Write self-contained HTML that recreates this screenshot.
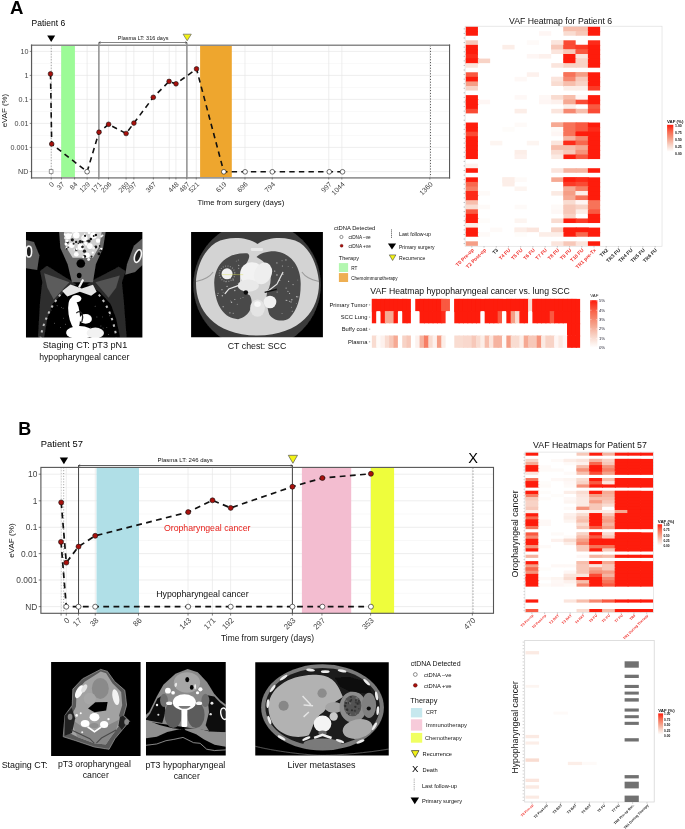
<!DOCTYPE html>
<html><head><meta charset="utf-8"><title>Figure</title>
<style>
html,body{margin:0;padding:0;background:#fff;}
body{width:685px;height:829px;overflow:hidden;font-family:"Liberation Sans", sans-serif;}
svg{display:block;font-family:"Liberation Sans", sans-serif;opacity:0.999;}
</style></head><body>
<svg width="685" height="829" viewBox="0 0 685 829">
<rect width="685" height="829" fill="#fff"/>
<text x="10.00" y="14.00" font-size="18.6" fill="#000" text-anchor="start" font-weight="bold">A</text>
<text x="31.60" y="26.30" font-size="8.5" fill="#000" text-anchor="start" font-weight="normal">Patient 6</text>
<text x="18.30" y="434.90" font-size="18.0" fill="#000" text-anchor="start" font-weight="bold">B</text>
<text x="40.80" y="446.80" font-size="9.35" fill="#000" text-anchor="start" font-weight="normal">Patient 57</text>
<rect x="31.70" y="45.30" width="418.00" height="132.20" fill="#fff"/>
<line x1="31.70" y1="51.40" x2="449.70" y2="51.40" stroke="#e6e6e6" stroke-width="0.7"/>
<line x1="31.70" y1="63.40" x2="449.70" y2="63.40" stroke="#f0f0f0" stroke-width="0.5"/>
<line x1="31.70" y1="75.40" x2="449.70" y2="75.40" stroke="#e6e6e6" stroke-width="0.7"/>
<line x1="31.70" y1="87.40" x2="449.70" y2="87.40" stroke="#f0f0f0" stroke-width="0.5"/>
<line x1="31.70" y1="99.40" x2="449.70" y2="99.40" stroke="#e6e6e6" stroke-width="0.7"/>
<line x1="31.70" y1="111.40" x2="449.70" y2="111.40" stroke="#f0f0f0" stroke-width="0.5"/>
<line x1="31.70" y1="123.40" x2="449.70" y2="123.40" stroke="#e6e6e6" stroke-width="0.7"/>
<line x1="31.70" y1="135.40" x2="449.70" y2="135.40" stroke="#f0f0f0" stroke-width="0.5"/>
<line x1="31.70" y1="147.40" x2="449.70" y2="147.40" stroke="#e6e6e6" stroke-width="0.7"/>
<line x1="31.70" y1="159.50" x2="449.70" y2="159.50" stroke="#f0f0f0" stroke-width="0.5"/>
<line x1="31.70" y1="171.60" x2="449.70" y2="171.60" stroke="#e6e6e6" stroke-width="0.7"/>
<line x1="51.20" y1="45.30" x2="51.20" y2="177.50" stroke="#e6e6e6" stroke-width="0.7"/>
<line x1="61.50" y1="45.30" x2="61.50" y2="177.50" stroke="#e6e6e6" stroke-width="0.7"/>
<line x1="74.59" y1="45.30" x2="74.59" y2="177.50" stroke="#e6e6e6" stroke-width="0.7"/>
<line x1="87.11" y1="45.30" x2="87.11" y2="177.50" stroke="#e6e6e6" stroke-width="0.7"/>
<line x1="98.81" y1="45.30" x2="98.81" y2="177.50" stroke="#e6e6e6" stroke-width="0.7"/>
<line x1="108.55" y1="45.30" x2="108.55" y2="177.50" stroke="#e6e6e6" stroke-width="0.7"/>
<line x1="126.09" y1="45.30" x2="126.09" y2="177.50" stroke="#e6e6e6" stroke-width="0.7"/>
<line x1="133.88" y1="45.30" x2="133.88" y2="177.50" stroke="#e6e6e6" stroke-width="0.7"/>
<line x1="153.37" y1="45.30" x2="153.37" y2="177.50" stroke="#e6e6e6" stroke-width="0.7"/>
<line x1="169.24" y1="45.30" x2="169.24" y2="177.50" stroke="#e6e6e6" stroke-width="0.7"/>
<line x1="175.92" y1="45.30" x2="175.92" y2="177.50" stroke="#e6e6e6" stroke-width="0.7"/>
<line x1="186.78" y1="45.30" x2="186.78" y2="177.50" stroke="#e6e6e6" stroke-width="0.7"/>
<line x1="196.25" y1="45.30" x2="196.25" y2="177.50" stroke="#e6e6e6" stroke-width="0.7"/>
<line x1="223.53" y1="45.30" x2="223.53" y2="177.50" stroke="#e6e6e6" stroke-width="0.7"/>
<line x1="244.97" y1="45.30" x2="244.97" y2="177.50" stroke="#e6e6e6" stroke-width="0.7"/>
<line x1="272.25" y1="45.30" x2="272.25" y2="177.50" stroke="#e6e6e6" stroke-width="0.7"/>
<line x1="328.76" y1="45.30" x2="328.76" y2="177.50" stroke="#e6e6e6" stroke-width="0.7"/>
<line x1="341.85" y1="45.30" x2="341.85" y2="177.50" stroke="#e6e6e6" stroke-width="0.7"/>
<line x1="429.82" y1="45.30" x2="429.82" y2="177.50" stroke="#e6e6e6" stroke-width="0.7"/>
<rect x="61.20" y="45.30" width="13.70" height="132.20" fill="#9cfb97"/>
<rect x="200.10" y="45.30" width="31.70" height="132.20" fill="#eea62e"/>
<line x1="51.25" y1="45.30" x2="51.25" y2="177.50" stroke="#9a9a9a" stroke-width="1.0" stroke-dasharray="1 1.8"/>
<line x1="430.50" y1="45.30" x2="430.50" y2="177.50" stroke="#4a4a4a" stroke-width="1.0" stroke-dasharray="1 1.8"/>
<line x1="98.90" y1="42.50" x2="98.90" y2="177.50" stroke="#808080" stroke-width="1.3"/>
<line x1="186.90" y1="42.50" x2="186.90" y2="177.50" stroke="#808080" stroke-width="1.3"/>
<line x1="30.90" y1="45.25" x2="450.10" y2="45.25" stroke="#8a8a8a" stroke-width="1.7"/>
<line x1="30.90" y1="177.90" x2="450.10" y2="177.90" stroke="#989898" stroke-width="1.8"/>
<line x1="31.55" y1="44.60" x2="31.55" y2="178.60" stroke="#5a5a5a" stroke-width="1.2"/>
<line x1="449.55" y1="44.60" x2="449.55" y2="178.60" stroke="#5a5a5a" stroke-width="1.1"/>
<line x1="98.90" y1="42.50" x2="186.90" y2="42.50" stroke="#333" stroke-width="0.6"/>
<path d="M100.6 41.5 L98.9 42.5 L100.6 43.5" fill="none" stroke="#333" stroke-width="0.5"/>
<path d="M185.2 41.5 L186.9 42.5 L185.2 43.5" fill="none" stroke="#333" stroke-width="0.5"/>
<text x="143.10" y="39.60" font-size="5.5" fill="#111" text-anchor="middle" font-weight="normal">Plasma LT: 316 days</text>
<polygon points="47.20,35.50 55.20,35.50 51.20,42.10" fill="#000"/>
<polygon points="183.10,34.20 191.30,34.20 187.20,40.80" fill="#f2f215" stroke="#666" stroke-width="0.7"/>
<path d="M50.5 73.9 L51.7 144.0 L87.1 171.7 L99.0 132.2 L108.6 124.3 L126.1 133.5 L133.9 123.1 L153.3 97.3 L169.1 81.4 L176.0 83.8 L196.5 68.9 L223.8 171.8 L245.1 171.8 L272.3 171.8 L329.3 171.8 L342.5 171.8" fill="none" stroke="#111" stroke-width="1.6" stroke-dasharray="5.4 4.2"/>
<rect x="49.2" y="169.7" width="3.8" height="3.8" fill="#fff" stroke="#555" stroke-width="0.6"/>
<circle cx="50.5" cy="73.9" r="2.35" fill="#a8100c" stroke="#111" stroke-width="0.6"/>
<circle cx="51.7" cy="144.0" r="2.35" fill="#a8100c" stroke="#111" stroke-width="0.6"/>
<circle cx="87.1" cy="171.7" r="2.35" fill="#fff" stroke="#111" stroke-width="0.6"/>
<circle cx="99.0" cy="132.2" r="2.35" fill="#a8100c" stroke="#111" stroke-width="0.6"/>
<circle cx="108.6" cy="124.3" r="2.35" fill="#a8100c" stroke="#111" stroke-width="0.6"/>
<circle cx="126.1" cy="133.5" r="2.35" fill="#a8100c" stroke="#111" stroke-width="0.6"/>
<circle cx="133.9" cy="123.1" r="2.35" fill="#a8100c" stroke="#111" stroke-width="0.6"/>
<circle cx="153.3" cy="97.3" r="2.35" fill="#a8100c" stroke="#111" stroke-width="0.6"/>
<circle cx="169.1" cy="81.4" r="2.35" fill="#a8100c" stroke="#111" stroke-width="0.6"/>
<circle cx="176.0" cy="83.8" r="2.35" fill="#a8100c" stroke="#111" stroke-width="0.6"/>
<circle cx="196.5" cy="68.9" r="2.35" fill="#a8100c" stroke="#111" stroke-width="0.6"/>
<circle cx="223.8" cy="171.8" r="2.35" fill="#fff" stroke="#111" stroke-width="0.6"/>
<circle cx="245.1" cy="171.8" r="2.35" fill="#fff" stroke="#111" stroke-width="0.6"/>
<circle cx="272.3" cy="171.8" r="2.35" fill="#fff" stroke="#111" stroke-width="0.6"/>
<circle cx="329.3" cy="171.8" r="2.35" fill="#fff" stroke="#111" stroke-width="0.6"/>
<circle cx="342.5" cy="171.8" r="2.35" fill="#fff" stroke="#111" stroke-width="0.6"/>
<line x1="29.70" y1="51.40" x2="31.70" y2="51.40" stroke="#444" stroke-width="0.6"/>
<text x="28.50" y="54.00" font-size="7.2" fill="#444" text-anchor="end" font-weight="normal">10</text>
<line x1="29.70" y1="75.40" x2="31.70" y2="75.40" stroke="#444" stroke-width="0.6"/>
<text x="28.50" y="78.00" font-size="7.2" fill="#444" text-anchor="end" font-weight="normal">1</text>
<line x1="29.70" y1="99.40" x2="31.70" y2="99.40" stroke="#444" stroke-width="0.6"/>
<text x="28.50" y="102.00" font-size="7.2" fill="#444" text-anchor="end" font-weight="normal">0.1</text>
<line x1="29.70" y1="123.40" x2="31.70" y2="123.40" stroke="#444" stroke-width="0.6"/>
<text x="28.50" y="126.00" font-size="7.2" fill="#444" text-anchor="end" font-weight="normal">0.01</text>
<line x1="29.70" y1="147.40" x2="31.70" y2="147.40" stroke="#444" stroke-width="0.6"/>
<text x="28.50" y="150.00" font-size="7.2" fill="#444" text-anchor="end" font-weight="normal">0.001</text>
<line x1="29.70" y1="171.60" x2="31.70" y2="171.60" stroke="#444" stroke-width="0.6"/>
<text x="28.50" y="174.20" font-size="7.2" fill="#444" text-anchor="end" font-weight="normal">ND</text>
<text x="7.20" y="110.60" font-size="7.85" fill="#111" text-anchor="middle" font-weight="normal" transform="rotate(-90 7.20 110.60)">eVAF (%)</text>
<line x1="51.20" y1="177.50" x2="51.20" y2="179.50" stroke="#444" stroke-width="0.6"/>
<text x="54.60" y="184.80" font-size="7.0" fill="#444" text-anchor="end" font-weight="normal" transform="rotate(-45 54.60 184.80)">0</text>
<line x1="61.50" y1="177.50" x2="61.50" y2="179.50" stroke="#444" stroke-width="0.6"/>
<text x="64.90" y="184.80" font-size="7.0" fill="#444" text-anchor="end" font-weight="normal" transform="rotate(-45 64.90 184.80)">37</text>
<line x1="74.59" y1="177.50" x2="74.59" y2="179.50" stroke="#444" stroke-width="0.6"/>
<text x="77.99" y="184.80" font-size="7.0" fill="#444" text-anchor="end" font-weight="normal" transform="rotate(-45 77.99 184.80)">84</text>
<line x1="87.11" y1="177.50" x2="87.11" y2="179.50" stroke="#444" stroke-width="0.6"/>
<text x="90.51" y="184.80" font-size="7.0" fill="#444" text-anchor="end" font-weight="normal" transform="rotate(-45 90.51 184.80)">129</text>
<line x1="98.81" y1="177.50" x2="98.81" y2="179.50" stroke="#444" stroke-width="0.6"/>
<text x="102.21" y="184.80" font-size="7.0" fill="#444" text-anchor="end" font-weight="normal" transform="rotate(-45 102.21 184.80)">171</text>
<line x1="108.55" y1="177.50" x2="108.55" y2="179.50" stroke="#444" stroke-width="0.6"/>
<text x="111.95" y="184.80" font-size="7.0" fill="#444" text-anchor="end" font-weight="normal" transform="rotate(-45 111.95 184.80)">206</text>
<line x1="126.09" y1="177.50" x2="126.09" y2="179.50" stroke="#444" stroke-width="0.6"/>
<text x="129.49" y="184.80" font-size="7.0" fill="#444" text-anchor="end" font-weight="normal" transform="rotate(-45 129.49 184.80)">269</text>
<line x1="133.88" y1="177.50" x2="133.88" y2="179.50" stroke="#444" stroke-width="0.6"/>
<text x="137.28" y="184.80" font-size="7.0" fill="#444" text-anchor="end" font-weight="normal" transform="rotate(-45 137.28 184.80)">297</text>
<line x1="153.37" y1="177.50" x2="153.37" y2="179.50" stroke="#444" stroke-width="0.6"/>
<text x="156.77" y="184.80" font-size="7.0" fill="#444" text-anchor="end" font-weight="normal" transform="rotate(-45 156.77 184.80)">367</text>
<line x1="169.24" y1="177.50" x2="169.24" y2="179.50" stroke="#444" stroke-width="0.6"/>
<line x1="175.92" y1="177.50" x2="175.92" y2="179.50" stroke="#444" stroke-width="0.6"/>
<text x="179.32" y="184.80" font-size="7.0" fill="#444" text-anchor="end" font-weight="normal" transform="rotate(-45 179.32 184.80)">448</text>
<line x1="186.78" y1="177.50" x2="186.78" y2="179.50" stroke="#444" stroke-width="0.6"/>
<text x="190.18" y="184.80" font-size="7.0" fill="#444" text-anchor="end" font-weight="normal" transform="rotate(-45 190.18 184.80)">487</text>
<line x1="196.25" y1="177.50" x2="196.25" y2="179.50" stroke="#444" stroke-width="0.6"/>
<text x="199.65" y="184.80" font-size="7.0" fill="#444" text-anchor="end" font-weight="normal" transform="rotate(-45 199.65 184.80)">521</text>
<line x1="223.53" y1="177.50" x2="223.53" y2="179.50" stroke="#444" stroke-width="0.6"/>
<text x="226.93" y="184.80" font-size="7.0" fill="#444" text-anchor="end" font-weight="normal" transform="rotate(-45 226.93 184.80)">619</text>
<line x1="244.97" y1="177.50" x2="244.97" y2="179.50" stroke="#444" stroke-width="0.6"/>
<text x="248.37" y="184.80" font-size="7.0" fill="#444" text-anchor="end" font-weight="normal" transform="rotate(-45 248.37 184.80)">696</text>
<line x1="272.25" y1="177.50" x2="272.25" y2="179.50" stroke="#444" stroke-width="0.6"/>
<text x="275.65" y="184.80" font-size="7.0" fill="#444" text-anchor="end" font-weight="normal" transform="rotate(-45 275.65 184.80)">794</text>
<line x1="328.76" y1="177.50" x2="328.76" y2="179.50" stroke="#444" stroke-width="0.6"/>
<text x="332.16" y="184.80" font-size="7.0" fill="#444" text-anchor="end" font-weight="normal" transform="rotate(-45 332.16 184.80)">997</text>
<line x1="341.85" y1="177.50" x2="341.85" y2="179.50" stroke="#444" stroke-width="0.6"/>
<text x="345.25" y="184.80" font-size="7.0" fill="#444" text-anchor="end" font-weight="normal" transform="rotate(-45 345.25 184.80)">1044</text>
<line x1="429.82" y1="177.50" x2="429.82" y2="179.50" stroke="#444" stroke-width="0.6"/>
<text x="433.22" y="184.80" font-size="7.0" fill="#444" text-anchor="end" font-weight="normal" transform="rotate(-45 433.22 184.80)">1360</text>
<text x="240.90" y="204.50" font-size="7.8" fill="#111" text-anchor="middle" font-weight="normal">Time from surgery (days)</text>
<rect x="40.90" y="467.40" width="452.60" height="145.90" fill="#fff"/>
<line x1="40.90" y1="474.20" x2="493.50" y2="474.20" stroke="#e6e6e6" stroke-width="0.7"/>
<line x1="40.90" y1="487.50" x2="493.50" y2="487.50" stroke="#f0f0f0" stroke-width="0.5"/>
<line x1="40.90" y1="500.80" x2="493.50" y2="500.80" stroke="#e6e6e6" stroke-width="0.7"/>
<line x1="40.90" y1="514.05" x2="493.50" y2="514.05" stroke="#f0f0f0" stroke-width="0.5"/>
<line x1="40.90" y1="527.30" x2="493.50" y2="527.30" stroke="#e6e6e6" stroke-width="0.7"/>
<line x1="40.90" y1="540.45" x2="493.50" y2="540.45" stroke="#f0f0f0" stroke-width="0.5"/>
<line x1="40.90" y1="553.60" x2="493.50" y2="553.60" stroke="#e6e6e6" stroke-width="0.7"/>
<line x1="40.90" y1="566.80" x2="493.50" y2="566.80" stroke="#f0f0f0" stroke-width="0.5"/>
<line x1="40.90" y1="580.00" x2="493.50" y2="580.00" stroke="#e6e6e6" stroke-width="0.7"/>
<line x1="40.90" y1="593.30" x2="493.50" y2="593.30" stroke="#f0f0f0" stroke-width="0.5"/>
<line x1="40.90" y1="606.60" x2="493.50" y2="606.60" stroke="#e6e6e6" stroke-width="0.7"/>
<line x1="61.09" y1="467.40" x2="61.09" y2="613.30" stroke="#e6e6e6" stroke-width="0.7"/>
<line x1="66.31" y1="467.40" x2="66.31" y2="613.30" stroke="#e6e6e6" stroke-width="0.7"/>
<line x1="78.48" y1="467.40" x2="78.48" y2="613.30" stroke="#e6e6e6" stroke-width="0.7"/>
<line x1="95.26" y1="467.40" x2="95.26" y2="613.30" stroke="#e6e6e6" stroke-width="0.7"/>
<line x1="138.48" y1="467.40" x2="138.48" y2="613.30" stroke="#e6e6e6" stroke-width="0.7"/>
<line x1="188.04" y1="467.40" x2="188.04" y2="613.30" stroke="#e6e6e6" stroke-width="0.7"/>
<line x1="212.38" y1="467.40" x2="212.38" y2="613.30" stroke="#e6e6e6" stroke-width="0.7"/>
<line x1="230.64" y1="467.40" x2="230.64" y2="613.30" stroke="#e6e6e6" stroke-width="0.7"/>
<line x1="292.38" y1="467.40" x2="292.38" y2="613.30" stroke="#e6e6e6" stroke-width="0.7"/>
<line x1="321.94" y1="467.40" x2="321.94" y2="613.30" stroke="#e6e6e6" stroke-width="0.7"/>
<line x1="370.63" y1="467.40" x2="370.63" y2="613.30" stroke="#e6e6e6" stroke-width="0.7"/>
<line x1="472.37" y1="467.40" x2="472.37" y2="613.30" stroke="#e6e6e6" stroke-width="0.7"/>
<rect x="96.50" y="467.40" width="42.50" height="145.90" fill="#b0dfe7"/>
<rect x="301.90" y="467.40" width="49.30" height="145.90" fill="#f3bdd0"/>
<rect x="370.90" y="467.40" width="23.20" height="145.90" fill="#eefd3c"/>
<line x1="61.40" y1="467.40" x2="61.40" y2="613.30" stroke="#c4c4c4" stroke-width="0.8" stroke-dasharray="1 1.8"/>
<line x1="63.70" y1="467.40" x2="63.70" y2="613.30" stroke="#9a9a9a" stroke-width="1.0" stroke-dasharray="1 1.8"/>
<line x1="473.00" y1="467.40" x2="473.00" y2="613.30" stroke="#aaa" stroke-width="1.3" stroke-dasharray="1.3 1.7"/>
<line x1="78.55" y1="465.50" x2="78.55" y2="613.30" stroke="#444" stroke-width="1.0"/>
<line x1="292.40" y1="465.50" x2="292.40" y2="613.30" stroke="#444" stroke-width="1.0"/>
<rect x="40.9" y="467.4" width="452.6" height="145.89999999999998" fill="none" stroke="#555" stroke-width="1.1"/>
<line x1="78.50" y1="465.50" x2="292.40" y2="465.50" stroke="#333" stroke-width="0.8"/>
<path d="M80.2 464.5 L78.5 465.5 L80.2 466.5" fill="none" stroke="#222" stroke-width="0.5"/>
<path d="M290.7 464.5 L292.4 465.5 L290.7 466.5" fill="none" stroke="#222" stroke-width="0.5"/>
<text x="185.20" y="461.50" font-size="6.0" fill="#111" text-anchor="middle" font-weight="normal">Plasma LT: 246 days</text>
<polygon points="59.75,457.60 68.05,457.60 63.90,464.20" fill="#000"/>
<polygon points="288.30,455.30 297.50,455.30 292.90,463.30" fill="#f2f215" stroke="#555" stroke-width="0.7"/>
<text x="473.20" y="462.80" font-size="14.5" fill="#000" text-anchor="middle" font-weight="normal">X</text>
<path d="M61.2 502.4 L66.3 562.6 L78.5 546.6 L95.2 535.8 L188.2 512.1 L212.5 500.3 L230.7 507.9 L292.4 486.7 L322.4 478.0 L370.9 473.8" fill="none" stroke="#111" stroke-width="1.7" stroke-dasharray="5.8 4.4"/>
<path d="M61.0 541.9 L66.3 606.7 L78.5 606.7 L95.2 606.7 L188.2 606.7 L230.7 606.7 L292.4 606.7 L322.4 606.7 L370.9 606.7" fill="none" stroke="#111" stroke-width="1.7" stroke-dasharray="5.8 4.4"/>
<circle cx="61.2" cy="502.4" r="2.5" fill="#a8100c" stroke="#111" stroke-width="0.6"/>
<circle cx="66.3" cy="562.6" r="2.5" fill="#a8100c" stroke="#111" stroke-width="0.6"/>
<circle cx="78.5" cy="546.6" r="2.5" fill="#a8100c" stroke="#111" stroke-width="0.6"/>
<circle cx="95.2" cy="535.8" r="2.5" fill="#a8100c" stroke="#111" stroke-width="0.6"/>
<circle cx="188.2" cy="512.1" r="2.5" fill="#a8100c" stroke="#111" stroke-width="0.6"/>
<circle cx="212.5" cy="500.3" r="2.5" fill="#a8100c" stroke="#111" stroke-width="0.6"/>
<circle cx="230.7" cy="507.9" r="2.5" fill="#a8100c" stroke="#111" stroke-width="0.6"/>
<circle cx="292.4" cy="486.7" r="2.5" fill="#a8100c" stroke="#111" stroke-width="0.6"/>
<circle cx="322.4" cy="478.0" r="2.5" fill="#a8100c" stroke="#111" stroke-width="0.6"/>
<circle cx="370.9" cy="473.8" r="2.5" fill="#a8100c" stroke="#111" stroke-width="0.6"/>
<circle cx="61.0" cy="541.9" r="2.5" fill="#a8100c" stroke="#111" stroke-width="0.6"/>
<circle cx="66.3" cy="606.7" r="2.5" fill="#fff" stroke="#111" stroke-width="0.6"/>
<circle cx="78.5" cy="606.7" r="2.5" fill="#fff" stroke="#111" stroke-width="0.6"/>
<circle cx="95.2" cy="606.7" r="2.5" fill="#fff" stroke="#111" stroke-width="0.6"/>
<circle cx="188.2" cy="606.7" r="2.5" fill="#fff" stroke="#111" stroke-width="0.6"/>
<circle cx="230.7" cy="606.7" r="2.5" fill="#fff" stroke="#111" stroke-width="0.6"/>
<circle cx="292.4" cy="606.7" r="2.5" fill="#fff" stroke="#111" stroke-width="0.6"/>
<circle cx="322.4" cy="606.7" r="2.5" fill="#fff" stroke="#111" stroke-width="0.6"/>
<circle cx="370.9" cy="606.7" r="2.5" fill="#fff" stroke="#111" stroke-width="0.6"/>
<text x="207.20" y="530.90" font-size="8.75" fill="#e8211c" text-anchor="middle" font-weight="normal">Oropharyngeal cancer</text>
<text x="202.40" y="596.80" font-size="8.75" fill="#111" text-anchor="middle" font-weight="normal">Hypopharyngeal cancer</text>
<line x1="38.70" y1="474.20" x2="40.90" y2="474.20" stroke="#333" stroke-width="0.6"/>
<text x="37.30" y="477.20" font-size="8.4" fill="#444" text-anchor="end" font-weight="normal">10</text>
<line x1="38.70" y1="500.80" x2="40.90" y2="500.80" stroke="#333" stroke-width="0.6"/>
<text x="37.30" y="503.80" font-size="8.4" fill="#444" text-anchor="end" font-weight="normal">1</text>
<line x1="38.70" y1="527.30" x2="40.90" y2="527.30" stroke="#333" stroke-width="0.6"/>
<text x="37.30" y="530.30" font-size="8.4" fill="#444" text-anchor="end" font-weight="normal">0.1</text>
<line x1="38.70" y1="553.60" x2="40.90" y2="553.60" stroke="#333" stroke-width="0.6"/>
<text x="37.30" y="556.60" font-size="8.4" fill="#444" text-anchor="end" font-weight="normal">0.01</text>
<line x1="38.70" y1="580.00" x2="40.90" y2="580.00" stroke="#333" stroke-width="0.6"/>
<text x="37.30" y="583.00" font-size="8.4" fill="#444" text-anchor="end" font-weight="normal">0.001</text>
<line x1="38.70" y1="606.60" x2="40.90" y2="606.60" stroke="#333" stroke-width="0.6"/>
<text x="37.30" y="609.60" font-size="8.4" fill="#444" text-anchor="end" font-weight="normal">ND</text>
<text x="14.30" y="540.60" font-size="8.1" fill="#111" text-anchor="middle" font-weight="normal" transform="rotate(-90 14.30 540.60)">eVAF (%)</text>
<line x1="61.09" y1="613.30" x2="61.09" y2="615.60" stroke="#333" stroke-width="0.6"/>
<line x1="66.31" y1="613.30" x2="66.31" y2="615.60" stroke="#333" stroke-width="0.6"/>
<text x="70.11" y="620.90" font-size="7.8" fill="#444" text-anchor="end" font-weight="normal" transform="rotate(-45 70.11 620.90)">0</text>
<line x1="78.48" y1="613.30" x2="78.48" y2="615.60" stroke="#333" stroke-width="0.6"/>
<text x="82.28" y="620.90" font-size="7.8" fill="#444" text-anchor="end" font-weight="normal" transform="rotate(-45 82.28 620.90)">17</text>
<line x1="95.26" y1="613.30" x2="95.26" y2="615.60" stroke="#333" stroke-width="0.6"/>
<text x="99.06" y="620.90" font-size="7.8" fill="#444" text-anchor="end" font-weight="normal" transform="rotate(-45 99.06 620.90)">38</text>
<line x1="138.48" y1="613.30" x2="138.48" y2="615.60" stroke="#333" stroke-width="0.6"/>
<text x="142.28" y="620.90" font-size="7.8" fill="#444" text-anchor="end" font-weight="normal" transform="rotate(-45 142.28 620.90)">86</text>
<line x1="188.04" y1="613.30" x2="188.04" y2="615.60" stroke="#333" stroke-width="0.6"/>
<text x="191.84" y="620.90" font-size="7.8" fill="#444" text-anchor="end" font-weight="normal" transform="rotate(-45 191.84 620.90)">143</text>
<line x1="212.38" y1="613.30" x2="212.38" y2="615.60" stroke="#333" stroke-width="0.6"/>
<text x="216.18" y="620.90" font-size="7.8" fill="#444" text-anchor="end" font-weight="normal" transform="rotate(-45 216.18 620.90)">171</text>
<line x1="230.64" y1="613.30" x2="230.64" y2="615.60" stroke="#333" stroke-width="0.6"/>
<text x="234.44" y="620.90" font-size="7.8" fill="#444" text-anchor="end" font-weight="normal" transform="rotate(-45 234.44 620.90)">192</text>
<line x1="292.38" y1="613.30" x2="292.38" y2="615.60" stroke="#333" stroke-width="0.6"/>
<text x="296.18" y="620.90" font-size="7.8" fill="#444" text-anchor="end" font-weight="normal" transform="rotate(-45 296.18 620.90)">263</text>
<line x1="321.94" y1="613.30" x2="321.94" y2="615.60" stroke="#333" stroke-width="0.6"/>
<text x="325.74" y="620.90" font-size="7.8" fill="#444" text-anchor="end" font-weight="normal" transform="rotate(-45 325.74 620.90)">297</text>
<line x1="370.63" y1="613.30" x2="370.63" y2="615.60" stroke="#333" stroke-width="0.6"/>
<text x="374.43" y="620.90" font-size="7.8" fill="#444" text-anchor="end" font-weight="normal" transform="rotate(-45 374.43 620.90)">353</text>
<line x1="472.37" y1="613.30" x2="472.37" y2="615.60" stroke="#333" stroke-width="0.6"/>
<text x="476.17" y="620.90" font-size="7.8" fill="#444" text-anchor="end" font-weight="normal" transform="rotate(-45 476.17 620.90)">470</text>
<text x="267.50" y="640.80" font-size="8.35" fill="#111" text-anchor="middle" font-weight="normal">Time from surgery (days)</text>
<text x="560.60" y="23.60" font-size="8.7" fill="#111" text-anchor="middle" font-weight="normal">VAF Heatmap for Patient 6</text>
<rect x="465.70" y="26.60" width="12.22" height="5.57" fill="#fe1c0c"/>
<rect x="563.46" y="26.60" width="13.22" height="4.57" fill="#f7beac"/>
<rect x="563.46" y="26.60" width="12.22" height="5.57" fill="#f7beac"/>
<rect x="575.68" y="26.60" width="13.22" height="4.57" fill="#f7beac"/>
<rect x="575.68" y="26.60" width="12.22" height="5.57" fill="#f7beac"/>
<rect x="587.90" y="26.60" width="12.22" height="5.57" fill="#fe1c0c"/>
<rect x="465.70" y="31.17" width="12.22" height="4.57" fill="#fe1c0c"/>
<rect x="539.02" y="31.17" width="12.22" height="4.57" fill="#fef6f4"/>
<rect x="563.46" y="31.17" width="13.22" height="4.57" fill="#f9dcd1"/>
<rect x="575.68" y="31.17" width="13.22" height="4.57" fill="#f7c8b9"/>
<rect x="587.90" y="31.17" width="12.22" height="4.57" fill="#fe1c0c"/>
<rect x="465.70" y="40.30" width="12.22" height="5.57" fill="#f7c8b9"/>
<rect x="526.80" y="40.30" width="12.22" height="4.57" fill="#fefaf8"/>
<rect x="551.24" y="40.30" width="13.22" height="4.57" fill="#fbe5dd"/>
<rect x="551.24" y="40.30" width="12.22" height="5.57" fill="#fbe5dd"/>
<rect x="563.46" y="40.30" width="12.22" height="5.57" fill="#fa4a34"/>
<rect x="587.90" y="40.30" width="12.22" height="5.57" fill="#fd2b19"/>
<rect x="465.70" y="44.87" width="12.22" height="5.57" fill="#fe1c0c"/>
<rect x="502.36" y="44.87" width="12.22" height="4.57" fill="#fceee8"/>
<rect x="551.24" y="44.87" width="13.22" height="4.57" fill="#f7c8b9"/>
<rect x="551.24" y="44.87" width="12.22" height="5.57" fill="#f7c8b9"/>
<rect x="563.46" y="44.87" width="13.22" height="4.57" fill="#fa4a34"/>
<rect x="563.46" y="44.87" width="12.22" height="5.57" fill="#fa4a34"/>
<rect x="575.68" y="44.87" width="13.22" height="4.57" fill="#fc3a26"/>
<rect x="575.68" y="44.87" width="12.22" height="5.57" fill="#fc3a26"/>
<rect x="587.90" y="44.87" width="12.22" height="5.57" fill="#fe1c0c"/>
<rect x="465.70" y="49.44" width="12.22" height="5.57" fill="#fe1c0c"/>
<rect x="551.24" y="49.44" width="13.22" height="4.57" fill="#fbe5dd"/>
<rect x="563.46" y="49.44" width="13.22" height="4.57" fill="#f7c8b9"/>
<rect x="563.46" y="49.44" width="12.22" height="5.57" fill="#f7c8b9"/>
<rect x="575.68" y="49.44" width="13.22" height="4.57" fill="#f95941"/>
<rect x="575.68" y="49.44" width="12.22" height="5.57" fill="#f95941"/>
<rect x="587.90" y="49.44" width="12.22" height="5.57" fill="#fe1c0c"/>
<rect x="465.70" y="54.01" width="12.22" height="5.57" fill="#fd2b19"/>
<rect x="526.80" y="54.01" width="13.22" height="4.57" fill="#fef6f4"/>
<rect x="539.02" y="54.01" width="12.22" height="4.57" fill="#fdf1ed"/>
<rect x="563.46" y="54.01" width="13.22" height="4.57" fill="#fe1c0c"/>
<rect x="563.46" y="54.01" width="12.22" height="5.57" fill="#fe1c0c"/>
<rect x="575.68" y="54.01" width="13.22" height="4.57" fill="#fbe5dd"/>
<rect x="575.68" y="54.01" width="12.22" height="5.57" fill="#fbe5dd"/>
<rect x="587.90" y="54.01" width="12.22" height="5.57" fill="#fe1c0c"/>
<rect x="465.70" y="58.58" width="13.22" height="4.57" fill="#fe1c0c"/>
<rect x="465.70" y="58.58" width="12.22" height="5.57" fill="#fe1c0c"/>
<rect x="477.92" y="58.58" width="12.22" height="4.57" fill="#f8d3c6"/>
<rect x="563.46" y="58.58" width="13.22" height="4.57" fill="#fe1c0c"/>
<rect x="563.46" y="58.58" width="12.22" height="5.57" fill="#fe1c0c"/>
<rect x="575.68" y="58.58" width="13.22" height="4.57" fill="#f8d3c6"/>
<rect x="575.68" y="58.58" width="12.22" height="5.57" fill="#f8d3c6"/>
<rect x="587.90" y="58.58" width="12.22" height="5.57" fill="#fe1c0c"/>
<rect x="465.70" y="63.14" width="12.22" height="4.57" fill="#fbe5dd"/>
<rect x="551.24" y="63.14" width="13.22" height="4.57" fill="#fbe5dd"/>
<rect x="563.46" y="63.14" width="13.22" height="4.57" fill="#f8d3c6"/>
<rect x="575.68" y="63.14" width="13.22" height="4.57" fill="#f8d3c6"/>
<rect x="587.90" y="63.14" width="12.22" height="4.57" fill="#fe1c0c"/>
<rect x="465.70" y="72.28" width="12.22" height="5.57" fill="#f95941"/>
<rect x="526.80" y="72.28" width="12.22" height="4.57" fill="#fdf1ed"/>
<rect x="563.46" y="72.28" width="13.22" height="4.57" fill="#f77359"/>
<rect x="563.46" y="72.28" width="12.22" height="5.57" fill="#f77359"/>
<rect x="575.68" y="72.28" width="13.22" height="4.57" fill="#f59e86"/>
<rect x="575.68" y="72.28" width="12.22" height="5.57" fill="#f59e86"/>
<rect x="587.90" y="72.28" width="12.22" height="5.57" fill="#fe1c0c"/>
<rect x="465.70" y="76.85" width="12.22" height="5.57" fill="#fe1c0c"/>
<rect x="514.58" y="76.85" width="12.22" height="4.57" fill="#fef8f6"/>
<rect x="551.24" y="76.85" width="13.22" height="4.57" fill="#fbe5dd"/>
<rect x="551.24" y="76.85" width="12.22" height="5.57" fill="#fbe5dd"/>
<rect x="563.46" y="76.85" width="13.22" height="4.57" fill="#f68870"/>
<rect x="563.46" y="76.85" width="12.22" height="5.57" fill="#f68870"/>
<rect x="575.68" y="76.85" width="13.22" height="4.57" fill="#f7c8b9"/>
<rect x="575.68" y="76.85" width="12.22" height="5.57" fill="#f7c8b9"/>
<rect x="587.90" y="76.85" width="12.22" height="5.57" fill="#fe1c0c"/>
<rect x="465.70" y="81.42" width="12.22" height="5.57" fill="#f59e86"/>
<rect x="551.24" y="81.42" width="13.22" height="4.57" fill="#f9dcd1"/>
<rect x="563.46" y="81.42" width="13.22" height="4.57" fill="#f7beac"/>
<rect x="563.46" y="81.42" width="12.22" height="5.57" fill="#f7beac"/>
<rect x="575.68" y="81.42" width="13.22" height="4.57" fill="#f8d3c6"/>
<rect x="575.68" y="81.42" width="12.22" height="5.57" fill="#f8d3c6"/>
<rect x="587.90" y="81.42" width="12.22" height="5.57" fill="#fe1c0c"/>
<rect x="465.70" y="85.98" width="12.22" height="4.57" fill="#f8d3c6"/>
<rect x="563.46" y="85.98" width="13.22" height="4.57" fill="#fceee8"/>
<rect x="575.68" y="85.98" width="13.22" height="4.57" fill="#fceee8"/>
<rect x="587.90" y="85.98" width="12.22" height="4.57" fill="#fc3a26"/>
<rect x="465.70" y="95.12" width="12.22" height="5.57" fill="#fe1c0c"/>
<rect x="514.58" y="95.12" width="12.22" height="4.57" fill="#fef8f6"/>
<rect x="539.02" y="95.12" width="13.22" height="4.57" fill="#fef8f6"/>
<rect x="539.02" y="95.12" width="12.22" height="5.57" fill="#fef8f6"/>
<rect x="551.24" y="95.12" width="13.22" height="4.57" fill="#f9dcd1"/>
<rect x="551.24" y="95.12" width="12.22" height="5.57" fill="#f9dcd1"/>
<rect x="563.46" y="95.12" width="13.22" height="4.57" fill="#f7beac"/>
<rect x="563.46" y="95.12" width="12.22" height="5.57" fill="#f7beac"/>
<rect x="575.68" y="95.12" width="13.22" height="4.57" fill="#fef6f4"/>
<rect x="575.68" y="95.12" width="12.22" height="5.57" fill="#fef6f4"/>
<rect x="587.90" y="95.12" width="12.22" height="5.57" fill="#fe1c0c"/>
<rect x="465.70" y="99.69" width="13.22" height="4.57" fill="#fe1c0c"/>
<rect x="465.70" y="99.69" width="12.22" height="5.57" fill="#fe1c0c"/>
<rect x="477.92" y="99.69" width="12.22" height="4.57" fill="#fef6f4"/>
<rect x="539.02" y="99.69" width="13.22" height="4.57" fill="#fef6f4"/>
<rect x="551.24" y="99.69" width="13.22" height="4.57" fill="#fdf1ed"/>
<rect x="563.46" y="99.69" width="13.22" height="4.57" fill="#f6a993"/>
<rect x="563.46" y="99.69" width="12.22" height="5.57" fill="#f6a993"/>
<rect x="575.68" y="99.69" width="13.22" height="4.57" fill="#fa4a34"/>
<rect x="587.90" y="99.69" width="12.22" height="5.57" fill="#fe1c0c"/>
<rect x="465.70" y="104.26" width="12.22" height="5.57" fill="#fe1c0c"/>
<rect x="563.46" y="104.26" width="12.22" height="5.57" fill="#fceee8"/>
<rect x="587.90" y="104.26" width="12.22" height="5.57" fill="#f95941"/>
<rect x="465.70" y="108.82" width="12.22" height="4.57" fill="#fa4a34"/>
<rect x="514.58" y="108.82" width="12.22" height="4.57" fill="#fceee8"/>
<rect x="551.24" y="108.82" width="13.22" height="4.57" fill="#fbe5dd"/>
<rect x="563.46" y="108.82" width="13.22" height="4.57" fill="#f68870"/>
<rect x="575.68" y="108.82" width="13.22" height="4.57" fill="#f7beac"/>
<rect x="587.90" y="108.82" width="12.22" height="4.57" fill="#fa4a34"/>
<rect x="465.70" y="122.53" width="12.22" height="5.57" fill="#fe1c0c"/>
<rect x="514.58" y="122.53" width="12.22" height="4.57" fill="#fefaf8"/>
<rect x="551.24" y="122.53" width="13.22" height="4.57" fill="#f6a993"/>
<rect x="551.24" y="122.53" width="12.22" height="5.57" fill="#f6a993"/>
<rect x="563.46" y="122.53" width="13.22" height="4.57" fill="#f77359"/>
<rect x="563.46" y="122.53" width="12.22" height="5.57" fill="#f77359"/>
<rect x="575.68" y="122.53" width="13.22" height="4.57" fill="#f95941"/>
<rect x="575.68" y="122.53" width="12.22" height="5.57" fill="#f95941"/>
<rect x="587.90" y="122.53" width="12.22" height="5.57" fill="#fe1c0c"/>
<rect x="465.70" y="127.10" width="12.22" height="5.57" fill="#fe1c0c"/>
<rect x="502.36" y="127.10" width="12.22" height="4.57" fill="#fefcfa"/>
<rect x="551.24" y="127.10" width="13.22" height="4.57" fill="#fefaf8"/>
<rect x="551.24" y="127.10" width="12.22" height="5.57" fill="#fefaf8"/>
<rect x="563.46" y="127.10" width="13.22" height="4.57" fill="#f77359"/>
<rect x="563.46" y="127.10" width="12.22" height="5.57" fill="#f77359"/>
<rect x="575.68" y="127.10" width="13.22" height="4.57" fill="#f95941"/>
<rect x="575.68" y="127.10" width="12.22" height="5.57" fill="#f95941"/>
<rect x="587.90" y="127.10" width="12.22" height="5.57" fill="#fd2b19"/>
<rect x="465.70" y="131.66" width="12.22" height="5.57" fill="#fa4a34"/>
<rect x="551.24" y="131.66" width="13.22" height="4.57" fill="#fef6f4"/>
<rect x="563.46" y="131.66" width="13.22" height="4.57" fill="#f77359"/>
<rect x="563.46" y="131.66" width="12.22" height="5.57" fill="#f77359"/>
<rect x="575.68" y="131.66" width="13.22" height="4.57" fill="#fe1c0c"/>
<rect x="575.68" y="131.66" width="12.22" height="5.57" fill="#fe1c0c"/>
<rect x="587.90" y="131.66" width="12.22" height="5.57" fill="#fe1c0c"/>
<rect x="465.70" y="136.23" width="12.22" height="5.57" fill="#fe1c0c"/>
<rect x="563.46" y="136.23" width="13.22" height="4.57" fill="#f6b3a0"/>
<rect x="563.46" y="136.23" width="12.22" height="5.57" fill="#f6b3a0"/>
<rect x="575.68" y="136.23" width="13.22" height="4.57" fill="#f68870"/>
<rect x="575.68" y="136.23" width="12.22" height="5.57" fill="#f68870"/>
<rect x="587.90" y="136.23" width="12.22" height="5.57" fill="#fe1c0c"/>
<rect x="465.70" y="140.80" width="12.22" height="5.57" fill="#fe1c0c"/>
<rect x="490.14" y="140.80" width="12.22" height="4.57" fill="#fdf5f1"/>
<rect x="526.80" y="140.80" width="12.22" height="4.57" fill="#fdf5f1"/>
<rect x="551.24" y="140.80" width="13.22" height="4.57" fill="#fbe5dd"/>
<rect x="551.24" y="140.80" width="12.22" height="5.57" fill="#fbe5dd"/>
<rect x="563.46" y="140.80" width="13.22" height="4.57" fill="#fd2b19"/>
<rect x="563.46" y="140.80" width="12.22" height="5.57" fill="#fd2b19"/>
<rect x="575.68" y="140.80" width="13.22" height="4.57" fill="#f8684e"/>
<rect x="575.68" y="140.80" width="12.22" height="5.57" fill="#f8684e"/>
<rect x="587.90" y="140.80" width="12.22" height="5.57" fill="#fe1c0c"/>
<rect x="465.70" y="145.37" width="12.22" height="5.57" fill="#fe1c0c"/>
<rect x="551.24" y="145.37" width="13.22" height="4.57" fill="#f7beac"/>
<rect x="551.24" y="145.37" width="12.22" height="5.57" fill="#f7beac"/>
<rect x="563.46" y="145.37" width="13.22" height="4.57" fill="#f7beac"/>
<rect x="563.46" y="145.37" width="12.22" height="5.57" fill="#f7beac"/>
<rect x="575.68" y="145.37" width="13.22" height="4.57" fill="#f6a993"/>
<rect x="575.68" y="145.37" width="12.22" height="5.57" fill="#f6a993"/>
<rect x="587.90" y="145.37" width="12.22" height="5.57" fill="#fe1c0c"/>
<rect x="465.70" y="149.94" width="12.22" height="5.57" fill="#fe1c0c"/>
<rect x="514.58" y="149.94" width="12.22" height="5.57" fill="#fceee8"/>
<rect x="551.24" y="149.94" width="13.22" height="4.57" fill="#f9dcd1"/>
<rect x="551.24" y="149.94" width="12.22" height="5.57" fill="#f9dcd1"/>
<rect x="563.46" y="149.94" width="13.22" height="4.57" fill="#f7c8b9"/>
<rect x="563.46" y="149.94" width="12.22" height="5.57" fill="#f7c8b9"/>
<rect x="575.68" y="149.94" width="13.22" height="4.57" fill="#f6937b"/>
<rect x="575.68" y="149.94" width="12.22" height="5.57" fill="#f6937b"/>
<rect x="587.90" y="149.94" width="12.22" height="5.57" fill="#fe1c0c"/>
<rect x="465.70" y="154.50" width="12.22" height="4.57" fill="#fe1c0c"/>
<rect x="514.58" y="154.50" width="12.22" height="4.57" fill="#fdf1ed"/>
<rect x="551.24" y="154.50" width="13.22" height="4.57" fill="#fbeae3"/>
<rect x="563.46" y="154.50" width="13.22" height="4.57" fill="#fe1c0c"/>
<rect x="575.68" y="154.50" width="13.22" height="4.57" fill="#f95941"/>
<rect x="587.90" y="154.50" width="12.22" height="4.57" fill="#fe1c0c"/>
<rect x="465.70" y="163.64" width="12.22" height="5.57" fill="#fdf1ed"/>
<rect x="465.70" y="168.21" width="12.22" height="4.57" fill="#fe1c0c"/>
<rect x="551.24" y="168.21" width="13.22" height="4.57" fill="#fbe5dd"/>
<rect x="563.46" y="168.21" width="13.22" height="4.57" fill="#f6b3a0"/>
<rect x="575.68" y="168.21" width="13.22" height="4.57" fill="#f6b3a0"/>
<rect x="587.90" y="168.21" width="12.22" height="4.57" fill="#fe1c0c"/>
<rect x="465.70" y="177.34" width="12.22" height="5.57" fill="#fe1c0c"/>
<rect x="502.36" y="177.34" width="13.22" height="4.57" fill="#fceee8"/>
<rect x="502.36" y="177.34" width="12.22" height="5.57" fill="#fceee8"/>
<rect x="514.58" y="177.34" width="12.22" height="4.57" fill="#fefaf8"/>
<rect x="551.24" y="177.34" width="13.22" height="4.57" fill="#f6a993"/>
<rect x="563.46" y="177.34" width="13.22" height="4.57" fill="#fe1c0c"/>
<rect x="563.46" y="177.34" width="12.22" height="5.57" fill="#fe1c0c"/>
<rect x="575.68" y="177.34" width="13.22" height="4.57" fill="#fd2b19"/>
<rect x="575.68" y="177.34" width="12.22" height="5.57" fill="#fd2b19"/>
<rect x="587.90" y="177.34" width="12.22" height="5.57" fill="#fe1c0c"/>
<rect x="465.70" y="181.91" width="12.22" height="5.57" fill="#f8684e"/>
<rect x="502.36" y="181.91" width="12.22" height="4.57" fill="#fceee8"/>
<rect x="563.46" y="181.91" width="13.22" height="4.57" fill="#fc3a26"/>
<rect x="563.46" y="181.91" width="12.22" height="5.57" fill="#fc3a26"/>
<rect x="575.68" y="181.91" width="13.22" height="4.57" fill="#fa4a34"/>
<rect x="575.68" y="181.91" width="12.22" height="5.57" fill="#fa4a34"/>
<rect x="587.90" y="181.91" width="12.22" height="5.57" fill="#fe1c0c"/>
<rect x="465.70" y="186.48" width="12.22" height="5.57" fill="#f77e64"/>
<rect x="514.58" y="186.48" width="12.22" height="4.57" fill="#fdf5f1"/>
<rect x="563.46" y="186.48" width="13.22" height="4.57" fill="#f6a993"/>
<rect x="563.46" y="186.48" width="12.22" height="5.57" fill="#f6a993"/>
<rect x="575.68" y="186.48" width="13.22" height="4.57" fill="#f77e64"/>
<rect x="575.68" y="186.48" width="12.22" height="5.57" fill="#f77e64"/>
<rect x="587.90" y="186.48" width="12.22" height="5.57" fill="#fe1c0c"/>
<rect x="465.70" y="191.05" width="13.22" height="4.57" fill="#fd2b19"/>
<rect x="465.70" y="191.05" width="12.22" height="5.57" fill="#fd2b19"/>
<rect x="477.92" y="191.05" width="12.22" height="4.57" fill="#fefaf8"/>
<rect x="551.24" y="191.05" width="13.22" height="4.57" fill="#fbeae3"/>
<rect x="563.46" y="191.05" width="13.22" height="4.57" fill="#f59e86"/>
<rect x="563.46" y="191.05" width="12.22" height="5.57" fill="#f59e86"/>
<rect x="575.68" y="191.05" width="13.22" height="4.57" fill="#fceee8"/>
<rect x="575.68" y="191.05" width="12.22" height="5.57" fill="#fceee8"/>
<rect x="587.90" y="191.05" width="12.22" height="5.57" fill="#fe1c0c"/>
<rect x="465.70" y="195.62" width="12.22" height="5.57" fill="#fd2b19"/>
<rect x="563.46" y="195.62" width="13.22" height="4.57" fill="#f6a993"/>
<rect x="563.46" y="195.62" width="12.22" height="5.57" fill="#f6a993"/>
<rect x="575.68" y="195.62" width="13.22" height="4.57" fill="#f77359"/>
<rect x="575.68" y="195.62" width="12.22" height="5.57" fill="#f77359"/>
<rect x="587.90" y="195.62" width="12.22" height="5.57" fill="#fe1c0c"/>
<rect x="465.70" y="200.18" width="12.22" height="5.57" fill="#f7beac"/>
<rect x="563.46" y="200.18" width="13.22" height="4.57" fill="#f9dcd1"/>
<rect x="563.46" y="200.18" width="12.22" height="5.57" fill="#f9dcd1"/>
<rect x="575.68" y="200.18" width="13.22" height="4.57" fill="#fef6f4"/>
<rect x="575.68" y="200.18" width="12.22" height="5.57" fill="#fef6f4"/>
<rect x="587.90" y="200.18" width="12.22" height="5.57" fill="#f77359"/>
<rect x="465.70" y="204.75" width="13.22" height="4.57" fill="#f9dcd1"/>
<rect x="465.70" y="204.75" width="12.22" height="5.57" fill="#f9dcd1"/>
<rect x="477.92" y="204.75" width="12.22" height="4.57" fill="#fefaf8"/>
<rect x="514.58" y="204.75" width="12.22" height="4.57" fill="#fefaf8"/>
<rect x="551.24" y="204.75" width="13.22" height="4.57" fill="#fefaf8"/>
<rect x="551.24" y="204.75" width="12.22" height="5.57" fill="#fefaf8"/>
<rect x="563.46" y="204.75" width="13.22" height="4.57" fill="#f7c8b9"/>
<rect x="563.46" y="204.75" width="12.22" height="5.57" fill="#f7c8b9"/>
<rect x="575.68" y="204.75" width="13.22" height="4.57" fill="#f8d3c6"/>
<rect x="575.68" y="204.75" width="12.22" height="5.57" fill="#f8d3c6"/>
<rect x="587.90" y="204.75" width="12.22" height="5.57" fill="#f77359"/>
<rect x="465.70" y="209.32" width="12.22" height="5.57" fill="#f95941"/>
<rect x="551.24" y="209.32" width="13.22" height="4.57" fill="#fef8f6"/>
<rect x="563.46" y="209.32" width="13.22" height="4.57" fill="#f7c8b9"/>
<rect x="563.46" y="209.32" width="12.22" height="5.57" fill="#f7c8b9"/>
<rect x="575.68" y="209.32" width="13.22" height="4.57" fill="#fceee8"/>
<rect x="587.90" y="209.32" width="12.22" height="5.57" fill="#f95941"/>
<rect x="465.70" y="213.89" width="12.22" height="5.57" fill="#fe1c0c"/>
<rect x="563.46" y="213.89" width="12.22" height="5.57" fill="#f8d3c6"/>
<rect x="587.90" y="213.89" width="12.22" height="5.57" fill="#fe1c0c"/>
<rect x="465.70" y="218.46" width="13.22" height="4.57" fill="#fe1c0c"/>
<rect x="465.70" y="218.46" width="12.22" height="5.57" fill="#fe1c0c"/>
<rect x="477.92" y="218.46" width="12.22" height="4.57" fill="#fefcfa"/>
<rect x="514.58" y="218.46" width="12.22" height="4.57" fill="#fdf5f1"/>
<rect x="551.24" y="218.46" width="13.22" height="4.57" fill="#f9dcd1"/>
<rect x="563.46" y="218.46" width="13.22" height="4.57" fill="#fe1c0c"/>
<rect x="575.68" y="218.46" width="13.22" height="4.57" fill="#fc3a26"/>
<rect x="587.90" y="218.46" width="12.22" height="4.57" fill="#fe1c0c"/>
<rect x="465.70" y="223.02" width="12.22" height="5.57" fill="#fceee8"/>
<rect x="465.70" y="227.59" width="12.22" height="5.57" fill="#fe1c0c"/>
<rect x="490.14" y="227.59" width="12.22" height="4.57" fill="#fefaf8"/>
<rect x="514.58" y="227.59" width="13.22" height="4.57" fill="#fceee8"/>
<rect x="514.58" y="227.59" width="12.22" height="5.57" fill="#fceee8"/>
<rect x="526.80" y="227.59" width="12.22" height="4.57" fill="#fbe5dd"/>
<rect x="551.24" y="227.59" width="13.22" height="4.57" fill="#f8d3c6"/>
<rect x="551.24" y="227.59" width="12.22" height="5.57" fill="#f8d3c6"/>
<rect x="563.46" y="227.59" width="13.22" height="4.57" fill="#fe1c0c"/>
<rect x="563.46" y="227.59" width="12.22" height="5.57" fill="#fe1c0c"/>
<rect x="575.68" y="227.59" width="13.22" height="4.57" fill="#fe1c0c"/>
<rect x="575.68" y="227.59" width="12.22" height="5.57" fill="#fe1c0c"/>
<rect x="587.90" y="227.59" width="12.22" height="5.57" fill="#fe1c0c"/>
<rect x="465.70" y="232.16" width="13.22" height="4.57" fill="#fe1c0c"/>
<rect x="477.92" y="232.16" width="12.22" height="4.57" fill="#fefaf8"/>
<rect x="514.58" y="232.16" width="12.22" height="4.57" fill="#fefcfa"/>
<rect x="539.02" y="232.16" width="13.22" height="4.57" fill="#fceee8"/>
<rect x="551.24" y="232.16" width="13.22" height="4.57" fill="#fceee8"/>
<rect x="563.46" y="232.16" width="13.22" height="4.57" fill="#fe1c0c"/>
<rect x="575.68" y="232.16" width="13.22" height="4.57" fill="#f8684e"/>
<rect x="587.90" y="232.16" width="12.22" height="4.57" fill="#fe1c0c"/>
<rect x="465.70" y="241.30" width="12.22" height="4.57" fill="#f59e86"/>
<rect x="551.24" y="241.30" width="13.22" height="4.57" fill="#fbe5dd"/>
<rect x="563.46" y="241.30" width="13.22" height="4.57" fill="#f7c8b9"/>
<rect x="575.68" y="241.30" width="13.22" height="4.57" fill="#fbe5dd"/>
<rect x="587.90" y="241.30" width="12.22" height="4.57" fill="#fe1c0c"/>
<rect x="465.10" y="26.20" width="196.92" height="220.06" fill="none" stroke="#d9d9d9" stroke-width="0.6"/>
<line x1="463.70" y1="28.88" x2="464.80" y2="28.88" stroke="#666" stroke-width="0.5"/>
<line x1="463.70" y1="33.45" x2="464.80" y2="33.45" stroke="#666" stroke-width="0.5"/>
<line x1="463.70" y1="38.02" x2="464.80" y2="38.02" stroke="#666" stroke-width="0.5"/>
<line x1="463.70" y1="42.59" x2="464.80" y2="42.59" stroke="#666" stroke-width="0.5"/>
<line x1="463.70" y1="47.16" x2="464.80" y2="47.16" stroke="#666" stroke-width="0.5"/>
<line x1="463.70" y1="51.72" x2="464.80" y2="51.72" stroke="#666" stroke-width="0.5"/>
<line x1="463.70" y1="56.29" x2="464.80" y2="56.29" stroke="#666" stroke-width="0.5"/>
<line x1="463.70" y1="60.86" x2="464.80" y2="60.86" stroke="#666" stroke-width="0.5"/>
<line x1="463.70" y1="65.43" x2="464.80" y2="65.43" stroke="#666" stroke-width="0.5"/>
<line x1="463.70" y1="70.00" x2="464.80" y2="70.00" stroke="#666" stroke-width="0.5"/>
<line x1="463.70" y1="74.56" x2="464.80" y2="74.56" stroke="#666" stroke-width="0.5"/>
<line x1="463.70" y1="79.13" x2="464.80" y2="79.13" stroke="#666" stroke-width="0.5"/>
<line x1="463.70" y1="83.70" x2="464.80" y2="83.70" stroke="#666" stroke-width="0.5"/>
<line x1="463.70" y1="88.27" x2="464.80" y2="88.27" stroke="#666" stroke-width="0.5"/>
<line x1="463.70" y1="92.84" x2="464.80" y2="92.84" stroke="#666" stroke-width="0.5"/>
<line x1="463.70" y1="97.40" x2="464.80" y2="97.40" stroke="#666" stroke-width="0.5"/>
<line x1="463.70" y1="101.97" x2="464.80" y2="101.97" stroke="#666" stroke-width="0.5"/>
<line x1="463.70" y1="106.54" x2="464.80" y2="106.54" stroke="#666" stroke-width="0.5"/>
<line x1="463.70" y1="111.11" x2="464.80" y2="111.11" stroke="#666" stroke-width="0.5"/>
<line x1="463.70" y1="115.68" x2="464.80" y2="115.68" stroke="#666" stroke-width="0.5"/>
<line x1="463.70" y1="120.24" x2="464.80" y2="120.24" stroke="#666" stroke-width="0.5"/>
<line x1="463.70" y1="124.81" x2="464.80" y2="124.81" stroke="#666" stroke-width="0.5"/>
<line x1="463.70" y1="129.38" x2="464.80" y2="129.38" stroke="#666" stroke-width="0.5"/>
<line x1="463.70" y1="133.95" x2="464.80" y2="133.95" stroke="#666" stroke-width="0.5"/>
<line x1="463.70" y1="138.52" x2="464.80" y2="138.52" stroke="#666" stroke-width="0.5"/>
<line x1="463.70" y1="143.08" x2="464.80" y2="143.08" stroke="#666" stroke-width="0.5"/>
<line x1="463.70" y1="147.65" x2="464.80" y2="147.65" stroke="#666" stroke-width="0.5"/>
<line x1="463.70" y1="152.22" x2="464.80" y2="152.22" stroke="#666" stroke-width="0.5"/>
<line x1="463.70" y1="156.79" x2="464.80" y2="156.79" stroke="#666" stroke-width="0.5"/>
<line x1="463.70" y1="161.36" x2="464.80" y2="161.36" stroke="#666" stroke-width="0.5"/>
<line x1="463.70" y1="165.92" x2="464.80" y2="165.92" stroke="#666" stroke-width="0.5"/>
<line x1="463.70" y1="170.49" x2="464.80" y2="170.49" stroke="#666" stroke-width="0.5"/>
<line x1="463.70" y1="175.06" x2="464.80" y2="175.06" stroke="#666" stroke-width="0.5"/>
<line x1="463.70" y1="179.63" x2="464.80" y2="179.63" stroke="#666" stroke-width="0.5"/>
<line x1="463.70" y1="184.20" x2="464.80" y2="184.20" stroke="#666" stroke-width="0.5"/>
<line x1="463.70" y1="188.76" x2="464.80" y2="188.76" stroke="#666" stroke-width="0.5"/>
<line x1="463.70" y1="193.33" x2="464.80" y2="193.33" stroke="#666" stroke-width="0.5"/>
<line x1="463.70" y1="197.90" x2="464.80" y2="197.90" stroke="#666" stroke-width="0.5"/>
<line x1="463.70" y1="202.47" x2="464.80" y2="202.47" stroke="#666" stroke-width="0.5"/>
<line x1="463.70" y1="207.04" x2="464.80" y2="207.04" stroke="#666" stroke-width="0.5"/>
<line x1="463.70" y1="211.60" x2="464.80" y2="211.60" stroke="#666" stroke-width="0.5"/>
<line x1="463.70" y1="216.17" x2="464.80" y2="216.17" stroke="#666" stroke-width="0.5"/>
<line x1="463.70" y1="220.74" x2="464.80" y2="220.74" stroke="#666" stroke-width="0.5"/>
<line x1="463.70" y1="225.31" x2="464.80" y2="225.31" stroke="#666" stroke-width="0.5"/>
<line x1="463.70" y1="229.88" x2="464.80" y2="229.88" stroke="#666" stroke-width="0.5"/>
<line x1="463.70" y1="234.44" x2="464.80" y2="234.44" stroke="#666" stroke-width="0.5"/>
<line x1="463.70" y1="239.01" x2="464.80" y2="239.01" stroke="#666" stroke-width="0.5"/>
<line x1="463.70" y1="243.58" x2="464.80" y2="243.58" stroke="#666" stroke-width="0.5"/>
<line x1="471.81" y1="246.26" x2="471.81" y2="247.46" stroke="#666" stroke-width="0.4"/>
<text x="474.11" y="250.46" font-size="5.0" fill="#f0322d" text-anchor="end" font-weight="bold" transform="rotate(-45 474.11 250.46)">T0 Pre-op</text>
<line x1="484.03" y1="246.26" x2="484.03" y2="247.46" stroke="#666" stroke-width="0.4"/>
<text x="486.33" y="250.46" font-size="5.0" fill="#f0322d" text-anchor="end" font-weight="bold" transform="rotate(-45 486.33 250.46)">T2 Post-op</text>
<line x1="496.25" y1="246.26" x2="496.25" y2="247.46" stroke="#666" stroke-width="0.4"/>
<text x="498.55" y="250.46" font-size="5.0" fill="#222" text-anchor="end" font-weight="bold" transform="rotate(-45 498.55 250.46)">T3</text>
<line x1="508.47" y1="246.26" x2="508.47" y2="247.46" stroke="#666" stroke-width="0.4"/>
<text x="510.77" y="250.46" font-size="5.0" fill="#f0322d" text-anchor="end" font-weight="bold" transform="rotate(-45 510.77 250.46)">T4 FU</text>
<line x1="520.69" y1="246.26" x2="520.69" y2="247.46" stroke="#666" stroke-width="0.4"/>
<text x="522.99" y="250.46" font-size="5.0" fill="#f0322d" text-anchor="end" font-weight="bold" transform="rotate(-45 522.99 250.46)">T5 FU</text>
<line x1="532.91" y1="246.26" x2="532.91" y2="247.46" stroke="#666" stroke-width="0.4"/>
<text x="535.21" y="250.46" font-size="5.0" fill="#f0322d" text-anchor="end" font-weight="bold" transform="rotate(-45 535.21 250.46)">T6 FU</text>
<line x1="545.13" y1="246.26" x2="545.13" y2="247.46" stroke="#666" stroke-width="0.4"/>
<text x="547.43" y="250.46" font-size="5.0" fill="#f0322d" text-anchor="end" font-weight="bold" transform="rotate(-45 547.43 250.46)">T7 FU</text>
<line x1="557.35" y1="246.26" x2="557.35" y2="247.46" stroke="#666" stroke-width="0.4"/>
<text x="559.65" y="250.46" font-size="5.0" fill="#f0322d" text-anchor="end" font-weight="bold" transform="rotate(-45 559.65 250.46)">T8 FU</text>
<line x1="569.57" y1="246.26" x2="569.57" y2="247.46" stroke="#666" stroke-width="0.4"/>
<text x="571.87" y="250.46" font-size="5.0" fill="#f0322d" text-anchor="end" font-weight="bold" transform="rotate(-45 571.87 250.46)">T9 FU</text>
<line x1="581.79" y1="246.26" x2="581.79" y2="247.46" stroke="#666" stroke-width="0.4"/>
<text x="584.09" y="250.46" font-size="5.0" fill="#f0322d" text-anchor="end" font-weight="bold" transform="rotate(-45 584.09 250.46)">T10 FU</text>
<line x1="594.01" y1="246.26" x2="594.01" y2="247.46" stroke="#666" stroke-width="0.4"/>
<text x="596.31" y="250.46" font-size="5.0" fill="#f0322d" text-anchor="end" font-weight="bold" transform="rotate(-45 596.31 250.46)">TR1 pre-Tx</text>
<line x1="606.23" y1="246.26" x2="606.23" y2="247.46" stroke="#666" stroke-width="0.4"/>
<text x="608.53" y="250.46" font-size="5.0" fill="#222" text-anchor="end" font-weight="bold" transform="rotate(-45 608.53 250.46)">TR2</text>
<line x1="618.45" y1="246.26" x2="618.45" y2="247.46" stroke="#666" stroke-width="0.4"/>
<text x="620.75" y="250.46" font-size="5.0" fill="#222" text-anchor="end" font-weight="bold" transform="rotate(-45 620.75 250.46)">TR3 FU</text>
<line x1="630.67" y1="246.26" x2="630.67" y2="247.46" stroke="#666" stroke-width="0.4"/>
<text x="632.97" y="250.46" font-size="5.0" fill="#222" text-anchor="end" font-weight="bold" transform="rotate(-45 632.97 250.46)">TR4 FU</text>
<line x1="642.89" y1="246.26" x2="642.89" y2="247.46" stroke="#666" stroke-width="0.4"/>
<text x="645.19" y="250.46" font-size="5.0" fill="#222" text-anchor="end" font-weight="bold" transform="rotate(-45 645.19 250.46)">TR5 FU</text>
<line x1="655.11" y1="246.26" x2="655.11" y2="247.46" stroke="#666" stroke-width="0.4"/>
<text x="657.41" y="250.46" font-size="5.0" fill="#222" text-anchor="end" font-weight="bold" transform="rotate(-45 657.41 250.46)">TR6 FU</text>
<defs><linearGradient id="cb" x1="0" y1="0" x2="0" y2="1"><stop offset="0.00" stop-color="#fe1c0c"/><stop offset="0.25" stop-color="#f8684e"/><stop offset="0.50" stop-color="#f59e86"/><stop offset="0.75" stop-color="#f8d3c6"/><stop offset="0.90" stop-color="#fceee8"/><stop offset="1.00" stop-color="#ffffff"/></linearGradient></defs>
<rect x="667.10" y="124.80" width="6.20" height="27.00" fill="url(#cb)"/>
<text x="666.90" y="123.00" font-size="4.4" fill="#111" text-anchor="start" font-weight="bold">VAF (%)</text>
<text x="675.00" y="126.80" font-size="3.5" fill="#111" text-anchor="start" font-weight="bold">1.00</text>
<text x="675.00" y="133.73" font-size="3.5" fill="#111" text-anchor="start" font-weight="bold">0.75</text>
<text x="675.00" y="140.66" font-size="3.5" fill="#111" text-anchor="start" font-weight="bold">0.50</text>
<text x="675.00" y="147.59" font-size="3.5" fill="#111" text-anchor="start" font-weight="bold">0.25</text>
<text x="675.00" y="154.52" font-size="3.5" fill="#111" text-anchor="start" font-weight="bold">0.00</text>
<text x="370.30" y="293.90" font-size="8.68" fill="#111" text-anchor="start" font-weight="normal">VAF Heatmap hypopharyngeal cancer vs. lung SCC</text>
<text x="367.40" y="307.00" font-size="5.8" fill="#111" text-anchor="end" font-weight="normal">Primary Tumor</text>
<line x1="368.90" y1="304.90" x2="370.20" y2="304.90" stroke="#333" stroke-width="0.5"/>
<text x="367.40" y="319.20" font-size="5.8" fill="#111" text-anchor="end" font-weight="normal">SCC Lung</text>
<line x1="368.90" y1="317.10" x2="370.20" y2="317.10" stroke="#333" stroke-width="0.5"/>
<text x="367.40" y="331.30" font-size="5.8" fill="#111" text-anchor="end" font-weight="normal">Buffy coat</text>
<line x1="368.90" y1="329.20" x2="370.20" y2="329.20" stroke="#333" stroke-width="0.5"/>
<text x="367.40" y="343.90" font-size="5.8" fill="#111" text-anchor="end" font-weight="normal">Plasma</text>
<line x1="368.90" y1="341.80" x2="370.20" y2="341.80" stroke="#333" stroke-width="0.5"/>
<rect x="371.85" y="298.90" width="5.34" height="12.20" fill="#fe1c0c"/>
<rect x="371.85" y="298.90" width="4.34" height="13.20" fill="#fe1c0c"/>
<rect x="376.19" y="298.90" width="5.34" height="12.20" fill="#fe1c0c"/>
<rect x="380.53" y="298.90" width="5.34" height="12.20" fill="#fe1c0c"/>
<rect x="380.53" y="298.90" width="4.34" height="13.20" fill="#fe1c0c"/>
<rect x="384.87" y="298.90" width="5.34" height="12.20" fill="#fe1c0c"/>
<rect x="384.87" y="298.90" width="4.34" height="13.20" fill="#fe1c0c"/>
<rect x="389.21" y="298.90" width="5.34" height="12.20" fill="#fe1c0c"/>
<rect x="389.21" y="298.90" width="4.34" height="13.20" fill="#fe1c0c"/>
<rect x="393.55" y="298.90" width="5.34" height="12.20" fill="#fe1c0c"/>
<rect x="393.55" y="298.90" width="4.34" height="13.20" fill="#fe1c0c"/>
<rect x="397.88" y="298.90" width="5.34" height="12.20" fill="#fe1c0c"/>
<rect x="402.22" y="298.90" width="5.34" height="12.20" fill="#fe1c0c"/>
<rect x="402.22" y="298.90" width="4.34" height="13.20" fill="#fe1c0c"/>
<rect x="406.56" y="298.90" width="4.34" height="13.20" fill="#fe1c0c"/>
<rect x="415.24" y="298.90" width="5.34" height="12.20" fill="#fe1c0c"/>
<rect x="419.58" y="298.90" width="5.34" height="12.20" fill="#fe1c0c"/>
<rect x="419.58" y="298.90" width="4.34" height="13.20" fill="#fe1c0c"/>
<rect x="423.92" y="298.90" width="5.34" height="12.20" fill="#fe1c0c"/>
<rect x="423.92" y="298.90" width="4.34" height="13.20" fill="#fe1c0c"/>
<rect x="428.26" y="298.90" width="5.34" height="12.20" fill="#fe1c0c"/>
<rect x="428.26" y="298.90" width="4.34" height="13.20" fill="#fe1c0c"/>
<rect x="432.60" y="298.90" width="5.34" height="12.20" fill="#fe1c0c"/>
<rect x="432.60" y="298.90" width="4.34" height="13.20" fill="#fe1c0c"/>
<rect x="436.94" y="298.90" width="5.34" height="12.20" fill="#fe1c0c"/>
<rect x="436.94" y="298.90" width="4.34" height="13.20" fill="#fe1c0c"/>
<rect x="441.27" y="298.90" width="5.34" height="12.20" fill="#f95941"/>
<rect x="441.27" y="298.90" width="4.34" height="13.20" fill="#f95941"/>
<rect x="445.61" y="298.90" width="4.34" height="12.20" fill="#f95941"/>
<rect x="454.29" y="298.90" width="5.34" height="12.20" fill="#fe1c0c"/>
<rect x="454.29" y="298.90" width="4.34" height="13.20" fill="#fe1c0c"/>
<rect x="458.63" y="298.90" width="5.34" height="12.20" fill="#fe1c0c"/>
<rect x="458.63" y="298.90" width="4.34" height="13.20" fill="#fe1c0c"/>
<rect x="462.97" y="298.90" width="5.34" height="12.20" fill="#fe1c0c"/>
<rect x="462.97" y="298.90" width="4.34" height="13.20" fill="#fe1c0c"/>
<rect x="467.31" y="298.90" width="5.34" height="12.20" fill="#fe1c0c"/>
<rect x="467.31" y="298.90" width="4.34" height="13.20" fill="#fe1c0c"/>
<rect x="471.65" y="298.90" width="5.34" height="12.20" fill="#fe1c0c"/>
<rect x="471.65" y="298.90" width="4.34" height="13.20" fill="#fe1c0c"/>
<rect x="475.99" y="298.90" width="5.34" height="12.20" fill="#fe1c0c"/>
<rect x="475.99" y="298.90" width="4.34" height="13.20" fill="#fe1c0c"/>
<rect x="480.33" y="298.90" width="5.34" height="12.20" fill="#fe1c0c"/>
<rect x="484.66" y="298.90" width="5.34" height="12.20" fill="#fe1c0c"/>
<rect x="484.66" y="298.90" width="4.34" height="13.20" fill="#fe1c0c"/>
<rect x="489.00" y="298.90" width="5.34" height="12.20" fill="#fe1c0c"/>
<rect x="489.00" y="298.90" width="4.34" height="13.20" fill="#fe1c0c"/>
<rect x="493.34" y="298.90" width="5.34" height="12.20" fill="#fe1c0c"/>
<rect x="493.34" y="298.90" width="4.34" height="13.20" fill="#fe1c0c"/>
<rect x="497.68" y="298.90" width="5.34" height="12.20" fill="#fe1c0c"/>
<rect x="497.68" y="298.90" width="4.34" height="13.20" fill="#fe1c0c"/>
<rect x="502.02" y="298.90" width="5.34" height="12.20" fill="#fe1c0c"/>
<rect x="506.36" y="298.90" width="5.34" height="12.20" fill="#fe1c0c"/>
<rect x="506.36" y="298.90" width="4.34" height="13.20" fill="#fe1c0c"/>
<rect x="510.70" y="298.90" width="5.34" height="12.20" fill="#fe1c0c"/>
<rect x="510.70" y="298.90" width="4.34" height="13.20" fill="#fe1c0c"/>
<rect x="515.04" y="298.90" width="5.34" height="12.20" fill="#fe1c0c"/>
<rect x="515.04" y="298.90" width="4.34" height="13.20" fill="#fe1c0c"/>
<rect x="519.38" y="298.90" width="5.34" height="12.20" fill="#fe1c0c"/>
<rect x="519.38" y="298.90" width="4.34" height="13.20" fill="#fe1c0c"/>
<rect x="523.72" y="298.90" width="5.34" height="12.20" fill="#fe1c0c"/>
<rect x="523.72" y="298.90" width="4.34" height="13.20" fill="#fe1c0c"/>
<rect x="528.05" y="298.90" width="5.34" height="12.20" fill="#f9dcd1"/>
<rect x="532.39" y="298.90" width="5.34" height="12.20" fill="#fe1c0c"/>
<rect x="532.39" y="298.90" width="4.34" height="13.20" fill="#fe1c0c"/>
<rect x="536.73" y="298.90" width="5.34" height="12.20" fill="#fe1c0c"/>
<rect x="536.73" y="298.90" width="4.34" height="13.20" fill="#fe1c0c"/>
<rect x="541.07" y="298.90" width="5.34" height="12.20" fill="#fe1c0c"/>
<rect x="541.07" y="298.90" width="4.34" height="13.20" fill="#fe1c0c"/>
<rect x="545.41" y="298.90" width="5.34" height="12.20" fill="#fe1c0c"/>
<rect x="545.41" y="298.90" width="4.34" height="13.20" fill="#fe1c0c"/>
<rect x="549.75" y="298.90" width="5.34" height="12.20" fill="#fe1c0c"/>
<rect x="549.75" y="298.90" width="4.34" height="13.20" fill="#fe1c0c"/>
<rect x="554.09" y="298.90" width="5.34" height="12.20" fill="#fe1c0c"/>
<rect x="554.09" y="298.90" width="4.34" height="13.20" fill="#fe1c0c"/>
<rect x="558.43" y="298.90" width="5.34" height="12.20" fill="#fe1c0c"/>
<rect x="558.43" y="298.90" width="4.34" height="13.20" fill="#fe1c0c"/>
<rect x="562.77" y="298.90" width="5.34" height="12.20" fill="#fe1c0c"/>
<rect x="562.77" y="298.90" width="4.34" height="13.20" fill="#fe1c0c"/>
<rect x="567.11" y="298.90" width="5.34" height="12.20" fill="#fe1c0c"/>
<rect x="567.11" y="298.90" width="4.34" height="13.20" fill="#fe1c0c"/>
<rect x="571.44" y="298.90" width="5.34" height="12.20" fill="#fe1c0c"/>
<rect x="571.44" y="298.90" width="4.34" height="13.20" fill="#fe1c0c"/>
<rect x="575.78" y="298.90" width="4.34" height="13.20" fill="#fe1c0c"/>
<rect x="371.85" y="311.10" width="4.34" height="12.20" fill="#fe1c0c"/>
<rect x="380.53" y="311.10" width="5.34" height="12.20" fill="#fe1c0c"/>
<rect x="384.87" y="311.10" width="5.34" height="12.20" fill="#f6a993"/>
<rect x="389.21" y="311.10" width="5.34" height="12.20" fill="#f6a993"/>
<rect x="393.55" y="311.10" width="4.34" height="12.20" fill="#fe1c0c"/>
<rect x="402.22" y="311.10" width="5.34" height="12.20" fill="#fe1c0c"/>
<rect x="406.56" y="311.10" width="4.34" height="12.20" fill="#fe1c0c"/>
<rect x="419.58" y="311.10" width="5.34" height="12.20" fill="#fe1c0c"/>
<rect x="423.92" y="311.10" width="5.34" height="12.20" fill="#fe1c0c"/>
<rect x="428.26" y="311.10" width="5.34" height="12.20" fill="#fe1c0c"/>
<rect x="432.60" y="311.10" width="5.34" height="12.20" fill="#fe1c0c"/>
<rect x="436.94" y="311.10" width="5.34" height="12.20" fill="#fe1c0c"/>
<rect x="441.27" y="311.10" width="4.34" height="12.20" fill="#fd2b19"/>
<rect x="454.29" y="311.10" width="5.34" height="12.20" fill="#fe1c0c"/>
<rect x="458.63" y="311.10" width="5.34" height="12.20" fill="#fe1c0c"/>
<rect x="462.97" y="311.10" width="5.34" height="12.20" fill="#fe1c0c"/>
<rect x="467.31" y="311.10" width="5.34" height="12.20" fill="#fe1c0c"/>
<rect x="471.65" y="311.10" width="5.34" height="12.20" fill="#fe1c0c"/>
<rect x="475.99" y="311.10" width="4.34" height="12.20" fill="#fe1c0c"/>
<rect x="484.66" y="311.10" width="5.34" height="12.20" fill="#fe1c0c"/>
<rect x="489.00" y="311.10" width="5.34" height="12.20" fill="#fe1c0c"/>
<rect x="493.34" y="311.10" width="5.34" height="12.20" fill="#fe1c0c"/>
<rect x="497.68" y="311.10" width="4.34" height="12.20" fill="#f95941"/>
<rect x="506.36" y="311.10" width="5.34" height="12.20" fill="#fe1c0c"/>
<rect x="510.70" y="311.10" width="5.34" height="12.20" fill="#f59e86"/>
<rect x="515.04" y="311.10" width="5.34" height="12.20" fill="#f9dcd1"/>
<rect x="519.38" y="311.10" width="5.34" height="12.20" fill="#fe1c0c"/>
<rect x="523.72" y="311.10" width="4.34" height="12.20" fill="#fe1c0c"/>
<rect x="532.39" y="311.10" width="5.34" height="12.20" fill="#fe1c0c"/>
<rect x="536.73" y="311.10" width="5.34" height="12.20" fill="#fe1c0c"/>
<rect x="541.07" y="311.10" width="5.34" height="12.20" fill="#fe1c0c"/>
<rect x="545.41" y="311.10" width="5.34" height="12.20" fill="#fe1c0c"/>
<rect x="549.75" y="311.10" width="5.34" height="12.20" fill="#f95941"/>
<rect x="554.09" y="311.10" width="5.34" height="12.20" fill="#fe1c0c"/>
<rect x="558.43" y="311.10" width="5.34" height="12.20" fill="#fe1c0c"/>
<rect x="562.77" y="311.10" width="5.34" height="12.20" fill="#fe1c0c"/>
<rect x="567.11" y="311.10" width="5.34" height="12.20" fill="#fe1c0c"/>
<rect x="567.11" y="311.10" width="4.34" height="13.20" fill="#fe1c0c"/>
<rect x="571.44" y="311.10" width="5.34" height="12.20" fill="#fe1c0c"/>
<rect x="571.44" y="311.10" width="4.34" height="13.20" fill="#fe1c0c"/>
<rect x="575.78" y="311.10" width="4.34" height="13.20" fill="#fe1c0c"/>
<rect x="567.11" y="323.30" width="5.34" height="12.20" fill="#fe1c0c"/>
<rect x="567.11" y="323.30" width="4.34" height="13.20" fill="#fe1c0c"/>
<rect x="571.44" y="323.30" width="5.34" height="12.20" fill="#fe1c0c"/>
<rect x="571.44" y="323.30" width="4.34" height="13.20" fill="#fe1c0c"/>
<rect x="575.78" y="323.30" width="4.34" height="13.20" fill="#fe1c0c"/>
<rect x="371.85" y="335.50" width="5.34" height="12.30" fill="#f9dcd1"/>
<rect x="376.19" y="335.50" width="5.34" height="12.30" fill="#fefaf8"/>
<rect x="380.53" y="335.50" width="5.34" height="12.30" fill="#fdf1ed"/>
<rect x="384.87" y="335.50" width="5.34" height="12.30" fill="#f9dcd1"/>
<rect x="389.21" y="335.50" width="5.34" height="12.30" fill="#f7c8b9"/>
<rect x="393.55" y="335.50" width="4.34" height="12.30" fill="#f6a993"/>
<rect x="402.22" y="335.50" width="5.34" height="12.30" fill="#f8d3c6"/>
<rect x="406.56" y="335.50" width="4.34" height="12.30" fill="#f7c8b9"/>
<rect x="415.24" y="335.50" width="5.34" height="12.30" fill="#fdf1ed"/>
<rect x="419.58" y="335.50" width="5.34" height="12.30" fill="#f6b3a0"/>
<rect x="423.92" y="335.50" width="5.34" height="12.30" fill="#f77e64"/>
<rect x="428.26" y="335.50" width="5.34" height="12.30" fill="#f9dcd1"/>
<rect x="432.60" y="335.50" width="5.34" height="12.30" fill="#fdf1ed"/>
<rect x="436.94" y="335.50" width="5.34" height="12.30" fill="#f59e86"/>
<rect x="441.27" y="335.50" width="4.34" height="12.30" fill="#fceee8"/>
<rect x="454.29" y="335.50" width="5.34" height="12.30" fill="#f9dcd1"/>
<rect x="458.63" y="335.50" width="5.34" height="12.30" fill="#f9dcd1"/>
<rect x="462.97" y="335.50" width="5.34" height="12.30" fill="#f9d8cd"/>
<rect x="467.31" y="335.50" width="5.34" height="12.30" fill="#f9d8cd"/>
<rect x="471.65" y="335.50" width="5.34" height="12.30" fill="#f7c8b9"/>
<rect x="475.99" y="335.50" width="5.34" height="12.30" fill="#f9dcd1"/>
<rect x="480.33" y="335.50" width="5.34" height="12.30" fill="#fceee8"/>
<rect x="484.66" y="335.50" width="5.34" height="12.30" fill="#f7beac"/>
<rect x="489.00" y="335.50" width="5.34" height="12.30" fill="#fbe5dd"/>
<rect x="493.34" y="335.50" width="5.34" height="12.30" fill="#f6b3a0"/>
<rect x="497.68" y="335.50" width="5.34" height="12.30" fill="#f6b3a0"/>
<rect x="502.02" y="335.50" width="5.34" height="12.30" fill="#fefaf8"/>
<rect x="506.36" y="335.50" width="5.34" height="12.30" fill="#f59e86"/>
<rect x="510.70" y="335.50" width="5.34" height="12.30" fill="#f9dcd1"/>
<rect x="515.04" y="335.50" width="5.34" height="12.30" fill="#f9dcd1"/>
<rect x="519.38" y="335.50" width="5.34" height="12.30" fill="#fceee8"/>
<rect x="523.72" y="335.50" width="5.34" height="12.30" fill="#f6a993"/>
<rect x="528.05" y="335.50" width="5.34" height="12.30" fill="#f7c8b9"/>
<rect x="532.39" y="335.50" width="5.34" height="12.30" fill="#f7c8b9"/>
<rect x="536.73" y="335.50" width="5.34" height="12.30" fill="#f6937b"/>
<rect x="541.07" y="335.50" width="5.34" height="12.30" fill="#fbeae3"/>
<rect x="545.41" y="335.50" width="5.34" height="12.30" fill="#f8d3c6"/>
<rect x="549.75" y="335.50" width="5.34" height="12.30" fill="#f8d3c6"/>
<rect x="554.09" y="335.50" width="5.34" height="12.30" fill="#fef6f4"/>
<rect x="558.43" y="335.50" width="5.34" height="12.30" fill="#fbeae3"/>
<rect x="562.77" y="335.50" width="5.34" height="12.30" fill="#fef6f4"/>
<rect x="567.11" y="335.50" width="5.34" height="12.30" fill="#fe1c0c"/>
<rect x="571.44" y="335.50" width="5.34" height="12.30" fill="#fe1c0c"/>
<rect x="575.78" y="335.50" width="4.34" height="12.30" fill="#fe1c0c"/>
<rect x="590.10" y="300.20" width="7.30" height="47.50" fill="url(#cb)"/>
<text x="590.20" y="297.20" font-size="4.4" fill="#222" text-anchor="start" font-weight="normal">VAF</text>
<line x1="590.10" y1="300.90" x2="591.60" y2="300.90" stroke="#fff" stroke-width="0.4"/>
<line x1="595.90" y1="300.90" x2="597.40" y2="300.90" stroke="#fff" stroke-width="0.4"/>
<text x="598.90" y="302.40" font-size="4.3" fill="#223" text-anchor="start" font-weight="normal">5%</text>
<line x1="590.10" y1="310.26" x2="591.60" y2="310.26" stroke="#fff" stroke-width="0.4"/>
<line x1="595.90" y1="310.26" x2="597.40" y2="310.26" stroke="#fff" stroke-width="0.4"/>
<text x="598.90" y="311.76" font-size="4.3" fill="#223" text-anchor="start" font-weight="normal">4%</text>
<line x1="590.10" y1="319.62" x2="591.60" y2="319.62" stroke="#fff" stroke-width="0.4"/>
<line x1="595.90" y1="319.62" x2="597.40" y2="319.62" stroke="#fff" stroke-width="0.4"/>
<text x="598.90" y="321.12" font-size="4.3" fill="#223" text-anchor="start" font-weight="normal">3%</text>
<line x1="590.10" y1="328.98" x2="591.60" y2="328.98" stroke="#fff" stroke-width="0.4"/>
<line x1="595.90" y1="328.98" x2="597.40" y2="328.98" stroke="#fff" stroke-width="0.4"/>
<text x="598.90" y="330.48" font-size="4.3" fill="#223" text-anchor="start" font-weight="normal">2%</text>
<line x1="590.10" y1="338.34" x2="591.60" y2="338.34" stroke="#fff" stroke-width="0.4"/>
<line x1="595.90" y1="338.34" x2="597.40" y2="338.34" stroke="#fff" stroke-width="0.4"/>
<text x="598.90" y="339.84" font-size="4.3" fill="#223" text-anchor="start" font-weight="normal">1%</text>
<line x1="590.10" y1="347.70" x2="591.60" y2="347.70" stroke="#fff" stroke-width="0.4"/>
<line x1="595.90" y1="347.70" x2="597.40" y2="347.70" stroke="#fff" stroke-width="0.4"/>
<text x="598.90" y="349.20" font-size="4.3" fill="#223" text-anchor="start" font-weight="normal">0%</text>
<text x="590.00" y="448.40" font-size="8.8" fill="#111" text-anchor="middle" font-weight="normal">VAF Heatmaps for Patient 57</text>
<rect x="525.50" y="452.50" width="12.76" height="3.19" fill="#fe1c0c"/>
<rect x="576.54" y="452.50" width="13.76" height="3.19" fill="#f7c8b9"/>
<rect x="589.30" y="452.50" width="13.76" height="3.19" fill="#fe1c0c"/>
<rect x="602.06" y="452.50" width="13.76" height="3.19" fill="#f6b3a0"/>
<rect x="614.82" y="452.50" width="13.76" height="3.19" fill="#fe1c0c"/>
<rect x="627.58" y="452.50" width="13.76" height="3.19" fill="#fe1c0c"/>
<rect x="640.34" y="452.50" width="12.76" height="3.19" fill="#fe1c0c"/>
<rect x="525.50" y="458.89" width="12.76" height="4.19" fill="#f8d3c6"/>
<rect x="551.02" y="458.89" width="13.76" height="3.19" fill="#fefaf8"/>
<rect x="563.78" y="458.89" width="13.76" height="3.19" fill="#fceee8"/>
<rect x="563.78" y="458.89" width="12.76" height="4.19" fill="#fceee8"/>
<rect x="576.54" y="458.89" width="13.76" height="3.19" fill="#fbe5dd"/>
<rect x="576.54" y="458.89" width="12.76" height="4.19" fill="#fbe5dd"/>
<rect x="589.30" y="458.89" width="13.76" height="3.19" fill="#f6b3a0"/>
<rect x="589.30" y="458.89" width="12.76" height="4.19" fill="#f6b3a0"/>
<rect x="602.06" y="458.89" width="13.76" height="3.19" fill="#f8d3c6"/>
<rect x="602.06" y="458.89" width="12.76" height="4.19" fill="#f8d3c6"/>
<rect x="614.82" y="458.89" width="13.76" height="3.19" fill="#fe1c0c"/>
<rect x="614.82" y="458.89" width="12.76" height="4.19" fill="#fe1c0c"/>
<rect x="627.58" y="458.89" width="13.76" height="3.19" fill="#fe1c0c"/>
<rect x="627.58" y="458.89" width="12.76" height="4.19" fill="#fe1c0c"/>
<rect x="640.34" y="458.89" width="12.76" height="4.19" fill="#fe1c0c"/>
<rect x="525.50" y="462.08" width="12.76" height="4.19" fill="#f6a993"/>
<rect x="563.78" y="462.08" width="13.76" height="3.19" fill="#fefaf8"/>
<rect x="576.54" y="462.08" width="13.76" height="3.19" fill="#fdf1ed"/>
<rect x="576.54" y="462.08" width="12.76" height="4.19" fill="#fdf1ed"/>
<rect x="589.30" y="462.08" width="13.76" height="3.19" fill="#f8684e"/>
<rect x="589.30" y="462.08" width="12.76" height="4.19" fill="#f8684e"/>
<rect x="602.06" y="462.08" width="13.76" height="3.19" fill="#f7c8b9"/>
<rect x="602.06" y="462.08" width="12.76" height="4.19" fill="#f7c8b9"/>
<rect x="614.82" y="462.08" width="13.76" height="3.19" fill="#fe1c0c"/>
<rect x="614.82" y="462.08" width="12.76" height="4.19" fill="#fe1c0c"/>
<rect x="627.58" y="462.08" width="13.76" height="3.19" fill="#fe1c0c"/>
<rect x="627.58" y="462.08" width="12.76" height="4.19" fill="#fe1c0c"/>
<rect x="640.34" y="462.08" width="12.76" height="4.19" fill="#fe1c0c"/>
<rect x="525.50" y="465.28" width="13.76" height="3.19" fill="#fe1c0c"/>
<rect x="525.50" y="465.28" width="12.76" height="4.19" fill="#fe1c0c"/>
<rect x="538.26" y="465.28" width="12.76" height="4.19" fill="#fefaf8"/>
<rect x="576.54" y="465.28" width="13.76" height="3.19" fill="#f7beac"/>
<rect x="576.54" y="465.28" width="12.76" height="4.19" fill="#f7beac"/>
<rect x="589.30" y="465.28" width="13.76" height="3.19" fill="#fe1c0c"/>
<rect x="589.30" y="465.28" width="12.76" height="4.19" fill="#fe1c0c"/>
<rect x="602.06" y="465.28" width="13.76" height="3.19" fill="#f6937b"/>
<rect x="602.06" y="465.28" width="12.76" height="4.19" fill="#f6937b"/>
<rect x="614.82" y="465.28" width="13.76" height="3.19" fill="#fe1c0c"/>
<rect x="614.82" y="465.28" width="12.76" height="4.19" fill="#fe1c0c"/>
<rect x="627.58" y="465.28" width="13.76" height="3.19" fill="#fe1c0c"/>
<rect x="627.58" y="465.28" width="12.76" height="4.19" fill="#fe1c0c"/>
<rect x="640.34" y="465.28" width="12.76" height="4.19" fill="#fe1c0c"/>
<rect x="525.50" y="468.47" width="13.76" height="3.19" fill="#fe1c0c"/>
<rect x="525.50" y="468.47" width="12.76" height="4.19" fill="#fe1c0c"/>
<rect x="538.26" y="468.47" width="13.76" height="3.19" fill="#fefaf8"/>
<rect x="551.02" y="468.47" width="12.76" height="3.19" fill="#fefaf8"/>
<rect x="576.54" y="468.47" width="13.76" height="3.19" fill="#f6937b"/>
<rect x="576.54" y="468.47" width="12.76" height="4.19" fill="#f6937b"/>
<rect x="589.30" y="468.47" width="13.76" height="3.19" fill="#fe1c0c"/>
<rect x="589.30" y="468.47" width="12.76" height="4.19" fill="#fe1c0c"/>
<rect x="602.06" y="468.47" width="13.76" height="3.19" fill="#f77e64"/>
<rect x="602.06" y="468.47" width="12.76" height="4.19" fill="#f77e64"/>
<rect x="614.82" y="468.47" width="13.76" height="3.19" fill="#fe1c0c"/>
<rect x="614.82" y="468.47" width="12.76" height="4.19" fill="#fe1c0c"/>
<rect x="627.58" y="468.47" width="13.76" height="3.19" fill="#fe1c0c"/>
<rect x="627.58" y="468.47" width="12.76" height="4.19" fill="#fe1c0c"/>
<rect x="640.34" y="468.47" width="12.76" height="4.19" fill="#fe1c0c"/>
<rect x="525.50" y="471.66" width="12.76" height="3.19" fill="#fbe5dd"/>
<rect x="563.78" y="471.66" width="13.76" height="3.19" fill="#fefaf8"/>
<rect x="576.54" y="471.66" width="13.76" height="3.19" fill="#f7beac"/>
<rect x="589.30" y="471.66" width="13.76" height="3.19" fill="#fa4a34"/>
<rect x="602.06" y="471.66" width="13.76" height="3.19" fill="#f59e86"/>
<rect x="614.82" y="471.66" width="13.76" height="3.19" fill="#fe1c0c"/>
<rect x="627.58" y="471.66" width="13.76" height="3.19" fill="#fe1c0c"/>
<rect x="640.34" y="471.66" width="12.76" height="3.19" fill="#fe1c0c"/>
<rect x="525.50" y="478.05" width="12.76" height="4.19" fill="#f77359"/>
<rect x="551.02" y="478.05" width="13.76" height="3.19" fill="#fef8f6"/>
<rect x="563.78" y="478.05" width="13.76" height="3.19" fill="#fdf5f1"/>
<rect x="563.78" y="478.05" width="12.76" height="4.19" fill="#fdf5f1"/>
<rect x="576.54" y="478.05" width="13.76" height="3.19" fill="#f9dcd1"/>
<rect x="576.54" y="478.05" width="12.76" height="4.19" fill="#f9dcd1"/>
<rect x="589.30" y="478.05" width="13.76" height="3.19" fill="#fe1c0c"/>
<rect x="589.30" y="478.05" width="12.76" height="4.19" fill="#fe1c0c"/>
<rect x="602.06" y="478.05" width="13.76" height="3.19" fill="#f7beac"/>
<rect x="602.06" y="478.05" width="12.76" height="4.19" fill="#f7beac"/>
<rect x="614.82" y="478.05" width="13.76" height="3.19" fill="#fe1c0c"/>
<rect x="614.82" y="478.05" width="12.76" height="4.19" fill="#fe1c0c"/>
<rect x="627.58" y="478.05" width="13.76" height="3.19" fill="#fe1c0c"/>
<rect x="627.58" y="478.05" width="12.76" height="4.19" fill="#fe1c0c"/>
<rect x="640.34" y="478.05" width="12.76" height="4.19" fill="#fe1c0c"/>
<rect x="525.50" y="481.25" width="13.76" height="3.19" fill="#fe1c0c"/>
<rect x="525.50" y="481.25" width="12.76" height="4.19" fill="#fe1c0c"/>
<rect x="538.26" y="481.25" width="12.76" height="4.19" fill="#fefcfa"/>
<rect x="563.78" y="481.25" width="13.76" height="3.19" fill="#fef8f6"/>
<rect x="563.78" y="481.25" width="12.76" height="4.19" fill="#fef8f6"/>
<rect x="576.54" y="481.25" width="13.76" height="3.19" fill="#f8d3c6"/>
<rect x="576.54" y="481.25" width="12.76" height="4.19" fill="#f8d3c6"/>
<rect x="589.30" y="481.25" width="13.76" height="3.19" fill="#f95941"/>
<rect x="589.30" y="481.25" width="12.76" height="4.19" fill="#f95941"/>
<rect x="602.06" y="481.25" width="13.76" height="3.19" fill="#fbe5dd"/>
<rect x="602.06" y="481.25" width="12.76" height="4.19" fill="#fbe5dd"/>
<rect x="614.82" y="481.25" width="13.76" height="3.19" fill="#fe1c0c"/>
<rect x="614.82" y="481.25" width="12.76" height="4.19" fill="#fe1c0c"/>
<rect x="627.58" y="481.25" width="13.76" height="3.19" fill="#fe1c0c"/>
<rect x="627.58" y="481.25" width="12.76" height="4.19" fill="#fe1c0c"/>
<rect x="640.34" y="481.25" width="12.76" height="4.19" fill="#fe1c0c"/>
<rect x="525.50" y="484.44" width="13.76" height="3.19" fill="#fe1c0c"/>
<rect x="538.26" y="484.44" width="12.76" height="3.19" fill="#fefaf8"/>
<rect x="563.78" y="484.44" width="13.76" height="3.19" fill="#fefaf8"/>
<rect x="576.54" y="484.44" width="13.76" height="3.19" fill="#f6937b"/>
<rect x="589.30" y="484.44" width="13.76" height="3.19" fill="#fe1c0c"/>
<rect x="602.06" y="484.44" width="13.76" height="3.19" fill="#fe1c0c"/>
<rect x="614.82" y="484.44" width="13.76" height="3.19" fill="#fe1c0c"/>
<rect x="627.58" y="484.44" width="13.76" height="3.19" fill="#fe1c0c"/>
<rect x="640.34" y="484.44" width="12.76" height="3.19" fill="#fe1c0c"/>
<rect x="525.50" y="490.83" width="13.76" height="3.19" fill="#fe1c0c"/>
<rect x="525.50" y="490.83" width="12.76" height="4.19" fill="#fe1c0c"/>
<rect x="538.26" y="490.83" width="12.76" height="3.19" fill="#fefcfa"/>
<rect x="563.78" y="490.83" width="13.76" height="3.19" fill="#fceee8"/>
<rect x="576.54" y="490.83" width="13.76" height="3.19" fill="#f9dcd1"/>
<rect x="576.54" y="490.83" width="12.76" height="4.19" fill="#f9dcd1"/>
<rect x="589.30" y="490.83" width="13.76" height="3.19" fill="#fe1c0c"/>
<rect x="589.30" y="490.83" width="12.76" height="4.19" fill="#fe1c0c"/>
<rect x="602.06" y="490.83" width="13.76" height="3.19" fill="#f6a993"/>
<rect x="602.06" y="490.83" width="12.76" height="4.19" fill="#f6a993"/>
<rect x="614.82" y="490.83" width="13.76" height="3.19" fill="#fe1c0c"/>
<rect x="614.82" y="490.83" width="12.76" height="4.19" fill="#fe1c0c"/>
<rect x="627.58" y="490.83" width="13.76" height="3.19" fill="#fe1c0c"/>
<rect x="627.58" y="490.83" width="12.76" height="4.19" fill="#fe1c0c"/>
<rect x="640.34" y="490.83" width="12.76" height="4.19" fill="#fe1c0c"/>
<rect x="525.50" y="494.02" width="12.76" height="4.19" fill="#f77e64"/>
<rect x="551.02" y="494.02" width="12.76" height="3.19" fill="#fefcfa"/>
<rect x="576.54" y="494.02" width="13.76" height="3.19" fill="#fbe5dd"/>
<rect x="576.54" y="494.02" width="12.76" height="4.19" fill="#fbe5dd"/>
<rect x="589.30" y="494.02" width="13.76" height="3.19" fill="#f59e86"/>
<rect x="589.30" y="494.02" width="12.76" height="4.19" fill="#f59e86"/>
<rect x="602.06" y="494.02" width="13.76" height="3.19" fill="#f6b3a0"/>
<rect x="602.06" y="494.02" width="12.76" height="4.19" fill="#f6b3a0"/>
<rect x="614.82" y="494.02" width="13.76" height="3.19" fill="#fe1c0c"/>
<rect x="614.82" y="494.02" width="12.76" height="4.19" fill="#fe1c0c"/>
<rect x="627.58" y="494.02" width="13.76" height="3.19" fill="#fe1c0c"/>
<rect x="627.58" y="494.02" width="12.76" height="4.19" fill="#fe1c0c"/>
<rect x="640.34" y="494.02" width="12.76" height="4.19" fill="#fe1c0c"/>
<rect x="525.50" y="497.22" width="13.76" height="3.19" fill="#f7c8b9"/>
<rect x="525.50" y="497.22" width="12.76" height="4.19" fill="#f7c8b9"/>
<rect x="538.26" y="497.22" width="12.76" height="3.19" fill="#fefcfa"/>
<rect x="563.78" y="497.22" width="13.76" height="3.19" fill="#fef8f6"/>
<rect x="563.78" y="497.22" width="12.76" height="4.19" fill="#fef8f6"/>
<rect x="576.54" y="497.22" width="13.76" height="3.19" fill="#fbeae3"/>
<rect x="576.54" y="497.22" width="12.76" height="4.19" fill="#fbeae3"/>
<rect x="589.30" y="497.22" width="13.76" height="3.19" fill="#f7beac"/>
<rect x="589.30" y="497.22" width="12.76" height="4.19" fill="#f7beac"/>
<rect x="602.06" y="497.22" width="13.76" height="3.19" fill="#f7beac"/>
<rect x="602.06" y="497.22" width="12.76" height="4.19" fill="#f7beac"/>
<rect x="614.82" y="497.22" width="13.76" height="3.19" fill="#fe1c0c"/>
<rect x="614.82" y="497.22" width="12.76" height="4.19" fill="#fe1c0c"/>
<rect x="627.58" y="497.22" width="13.76" height="3.19" fill="#fe1c0c"/>
<rect x="627.58" y="497.22" width="12.76" height="4.19" fill="#fe1c0c"/>
<rect x="640.34" y="497.22" width="12.76" height="4.19" fill="#fe1c0c"/>
<rect x="525.50" y="500.41" width="12.76" height="4.19" fill="#f8d3c6"/>
<rect x="563.78" y="500.41" width="13.76" height="3.19" fill="#fdf5f1"/>
<rect x="576.54" y="500.41" width="13.76" height="3.19" fill="#fbeae3"/>
<rect x="576.54" y="500.41" width="12.76" height="4.19" fill="#fbeae3"/>
<rect x="589.30" y="500.41" width="13.76" height="3.19" fill="#f59e86"/>
<rect x="589.30" y="500.41" width="12.76" height="4.19" fill="#f59e86"/>
<rect x="602.06" y="500.41" width="13.76" height="3.19" fill="#f7c8b9"/>
<rect x="602.06" y="500.41" width="12.76" height="4.19" fill="#f7c8b9"/>
<rect x="614.82" y="500.41" width="13.76" height="3.19" fill="#fe1c0c"/>
<rect x="614.82" y="500.41" width="12.76" height="4.19" fill="#fe1c0c"/>
<rect x="627.58" y="500.41" width="13.76" height="3.19" fill="#fe1c0c"/>
<rect x="627.58" y="500.41" width="12.76" height="4.19" fill="#fe1c0c"/>
<rect x="640.34" y="500.41" width="12.76" height="4.19" fill="#fe1c0c"/>
<rect x="525.50" y="503.60" width="12.76" height="4.19" fill="#f8d3c6"/>
<rect x="576.54" y="503.60" width="13.76" height="3.19" fill="#fbeae3"/>
<rect x="576.54" y="503.60" width="12.76" height="4.19" fill="#fbeae3"/>
<rect x="589.30" y="503.60" width="13.76" height="3.19" fill="#f7c8b9"/>
<rect x="589.30" y="503.60" width="12.76" height="4.19" fill="#f7c8b9"/>
<rect x="602.06" y="503.60" width="13.76" height="3.19" fill="#f9dcd1"/>
<rect x="614.82" y="503.60" width="13.76" height="3.19" fill="#fe1c0c"/>
<rect x="614.82" y="503.60" width="12.76" height="4.19" fill="#fe1c0c"/>
<rect x="627.58" y="503.60" width="13.76" height="3.19" fill="#fe1c0c"/>
<rect x="627.58" y="503.60" width="12.76" height="4.19" fill="#fe1c0c"/>
<rect x="640.34" y="503.60" width="12.76" height="4.19" fill="#fe1c0c"/>
<rect x="525.50" y="506.80" width="12.76" height="4.19" fill="#f7c8b9"/>
<rect x="563.78" y="506.80" width="13.76" height="3.19" fill="#fefaf8"/>
<rect x="576.54" y="506.80" width="13.76" height="3.19" fill="#f6937b"/>
<rect x="576.54" y="506.80" width="12.76" height="4.19" fill="#f6937b"/>
<rect x="589.30" y="506.80" width="12.76" height="4.19" fill="#f7c8b9"/>
<rect x="614.82" y="506.80" width="13.76" height="3.19" fill="#fe1c0c"/>
<rect x="614.82" y="506.80" width="12.76" height="4.19" fill="#fe1c0c"/>
<rect x="627.58" y="506.80" width="13.76" height="3.19" fill="#fe1c0c"/>
<rect x="627.58" y="506.80" width="12.76" height="4.19" fill="#fe1c0c"/>
<rect x="640.34" y="506.80" width="12.76" height="4.19" fill="#fe1c0c"/>
<rect x="525.50" y="509.99" width="12.76" height="4.19" fill="#fceee8"/>
<rect x="576.54" y="509.99" width="13.76" height="3.19" fill="#fef6f4"/>
<rect x="576.54" y="509.99" width="12.76" height="4.19" fill="#fef6f4"/>
<rect x="589.30" y="509.99" width="13.76" height="3.19" fill="#fceee8"/>
<rect x="589.30" y="509.99" width="12.76" height="4.19" fill="#fceee8"/>
<rect x="602.06" y="509.99" width="13.76" height="3.19" fill="#fceee8"/>
<rect x="602.06" y="509.99" width="12.76" height="4.19" fill="#fceee8"/>
<rect x="614.82" y="509.99" width="13.76" height="3.19" fill="#f6a993"/>
<rect x="614.82" y="509.99" width="12.76" height="4.19" fill="#f6a993"/>
<rect x="627.58" y="509.99" width="13.76" height="3.19" fill="#fe1c0c"/>
<rect x="627.58" y="509.99" width="12.76" height="4.19" fill="#fe1c0c"/>
<rect x="640.34" y="509.99" width="12.76" height="4.19" fill="#fe1c0c"/>
<rect x="525.50" y="513.19" width="12.76" height="4.19" fill="#fe1c0c"/>
<rect x="563.78" y="513.19" width="13.76" height="3.19" fill="#fdf1ed"/>
<rect x="563.78" y="513.19" width="12.76" height="4.19" fill="#fdf1ed"/>
<rect x="576.54" y="513.19" width="13.76" height="3.19" fill="#f9dcd1"/>
<rect x="576.54" y="513.19" width="12.76" height="4.19" fill="#f9dcd1"/>
<rect x="589.30" y="513.19" width="13.76" height="3.19" fill="#fe1c0c"/>
<rect x="589.30" y="513.19" width="12.76" height="4.19" fill="#fe1c0c"/>
<rect x="602.06" y="513.19" width="13.76" height="3.19" fill="#f7c8b9"/>
<rect x="602.06" y="513.19" width="12.76" height="4.19" fill="#f7c8b9"/>
<rect x="614.82" y="513.19" width="13.76" height="3.19" fill="#fe1c0c"/>
<rect x="614.82" y="513.19" width="12.76" height="4.19" fill="#fe1c0c"/>
<rect x="627.58" y="513.19" width="13.76" height="3.19" fill="#fe1c0c"/>
<rect x="627.58" y="513.19" width="12.76" height="4.19" fill="#fe1c0c"/>
<rect x="640.34" y="513.19" width="12.76" height="4.19" fill="#fe1c0c"/>
<rect x="525.50" y="516.38" width="12.76" height="4.19" fill="#f8684e"/>
<rect x="563.78" y="516.38" width="13.76" height="3.19" fill="#fceee8"/>
<rect x="563.78" y="516.38" width="12.76" height="4.19" fill="#fceee8"/>
<rect x="576.54" y="516.38" width="13.76" height="3.19" fill="#f7c8b9"/>
<rect x="576.54" y="516.38" width="12.76" height="4.19" fill="#f7c8b9"/>
<rect x="589.30" y="516.38" width="13.76" height="3.19" fill="#fe1c0c"/>
<rect x="589.30" y="516.38" width="12.76" height="4.19" fill="#fe1c0c"/>
<rect x="602.06" y="516.38" width="13.76" height="3.19" fill="#f6a993"/>
<rect x="602.06" y="516.38" width="12.76" height="4.19" fill="#f6a993"/>
<rect x="614.82" y="516.38" width="13.76" height="3.19" fill="#fe1c0c"/>
<rect x="614.82" y="516.38" width="12.76" height="4.19" fill="#fe1c0c"/>
<rect x="627.58" y="516.38" width="13.76" height="3.19" fill="#fe1c0c"/>
<rect x="627.58" y="516.38" width="12.76" height="4.19" fill="#fe1c0c"/>
<rect x="640.34" y="516.38" width="12.76" height="4.19" fill="#fe1c0c"/>
<rect x="525.50" y="519.57" width="13.76" height="3.19" fill="#fe1c0c"/>
<rect x="525.50" y="519.57" width="12.76" height="4.19" fill="#fe1c0c"/>
<rect x="538.26" y="519.57" width="12.76" height="4.19" fill="#fef8f6"/>
<rect x="563.78" y="519.57" width="13.76" height="3.19" fill="#fdf5f1"/>
<rect x="576.54" y="519.57" width="13.76" height="3.19" fill="#f7beac"/>
<rect x="576.54" y="519.57" width="12.76" height="4.19" fill="#f7beac"/>
<rect x="589.30" y="519.57" width="13.76" height="3.19" fill="#fe1c0c"/>
<rect x="589.30" y="519.57" width="12.76" height="4.19" fill="#fe1c0c"/>
<rect x="602.06" y="519.57" width="13.76" height="3.19" fill="#f59e86"/>
<rect x="602.06" y="519.57" width="12.76" height="4.19" fill="#f59e86"/>
<rect x="614.82" y="519.57" width="13.76" height="3.19" fill="#fe1c0c"/>
<rect x="614.82" y="519.57" width="12.76" height="4.19" fill="#fe1c0c"/>
<rect x="627.58" y="519.57" width="13.76" height="3.19" fill="#fe1c0c"/>
<rect x="627.58" y="519.57" width="12.76" height="4.19" fill="#fe1c0c"/>
<rect x="640.34" y="519.57" width="12.76" height="4.19" fill="#fe1c0c"/>
<rect x="525.50" y="522.77" width="13.76" height="3.19" fill="#fe1c0c"/>
<rect x="525.50" y="522.77" width="12.76" height="4.19" fill="#fe1c0c"/>
<rect x="538.26" y="522.77" width="12.76" height="3.19" fill="#fef8f6"/>
<rect x="576.54" y="522.77" width="13.76" height="3.19" fill="#f9dcd1"/>
<rect x="576.54" y="522.77" width="12.76" height="4.19" fill="#f9dcd1"/>
<rect x="589.30" y="522.77" width="13.76" height="3.19" fill="#fe1c0c"/>
<rect x="589.30" y="522.77" width="12.76" height="4.19" fill="#fe1c0c"/>
<rect x="602.06" y="522.77" width="13.76" height="3.19" fill="#f6b3a0"/>
<rect x="602.06" y="522.77" width="12.76" height="4.19" fill="#f6b3a0"/>
<rect x="614.82" y="522.77" width="13.76" height="3.19" fill="#fe1c0c"/>
<rect x="614.82" y="522.77" width="12.76" height="4.19" fill="#fe1c0c"/>
<rect x="627.58" y="522.77" width="13.76" height="3.19" fill="#fe1c0c"/>
<rect x="627.58" y="522.77" width="12.76" height="4.19" fill="#fe1c0c"/>
<rect x="640.34" y="522.77" width="12.76" height="4.19" fill="#fe1c0c"/>
<rect x="525.50" y="525.96" width="12.76" height="3.19" fill="#f77359"/>
<rect x="576.54" y="525.96" width="13.76" height="3.19" fill="#f7c8b9"/>
<rect x="589.30" y="525.96" width="13.76" height="3.19" fill="#f95941"/>
<rect x="602.06" y="525.96" width="13.76" height="3.19" fill="#f59e86"/>
<rect x="614.82" y="525.96" width="13.76" height="3.19" fill="#fe1c0c"/>
<rect x="627.58" y="525.96" width="13.76" height="3.19" fill="#fe1c0c"/>
<rect x="640.34" y="525.96" width="12.76" height="3.19" fill="#fe1c0c"/>
<rect x="525.50" y="532.35" width="12.76" height="4.19" fill="#f95941"/>
<rect x="551.02" y="532.35" width="12.76" height="3.19" fill="#fefaf8"/>
<rect x="576.54" y="532.35" width="13.76" height="3.19" fill="#f8d3c6"/>
<rect x="576.54" y="532.35" width="12.76" height="4.19" fill="#f8d3c6"/>
<rect x="589.30" y="532.35" width="13.76" height="3.19" fill="#fe1c0c"/>
<rect x="589.30" y="532.35" width="12.76" height="4.19" fill="#fe1c0c"/>
<rect x="602.06" y="532.35" width="13.76" height="3.19" fill="#f9dcd1"/>
<rect x="602.06" y="532.35" width="12.76" height="4.19" fill="#f9dcd1"/>
<rect x="614.82" y="532.35" width="13.76" height="3.19" fill="#fe1c0c"/>
<rect x="614.82" y="532.35" width="12.76" height="4.19" fill="#fe1c0c"/>
<rect x="627.58" y="532.35" width="13.76" height="3.19" fill="#fe1c0c"/>
<rect x="627.58" y="532.35" width="12.76" height="4.19" fill="#fe1c0c"/>
<rect x="640.34" y="532.35" width="12.76" height="4.19" fill="#fe1c0c"/>
<rect x="525.50" y="535.54" width="12.76" height="4.19" fill="#f68870"/>
<rect x="563.78" y="535.54" width="13.76" height="3.19" fill="#fefaf8"/>
<rect x="563.78" y="535.54" width="12.76" height="4.19" fill="#fefaf8"/>
<rect x="576.54" y="535.54" width="13.76" height="3.19" fill="#f7beac"/>
<rect x="576.54" y="535.54" width="12.76" height="4.19" fill="#f7beac"/>
<rect x="589.30" y="535.54" width="13.76" height="3.19" fill="#f95941"/>
<rect x="589.30" y="535.54" width="12.76" height="4.19" fill="#f95941"/>
<rect x="602.06" y="535.54" width="13.76" height="3.19" fill="#f7c8b9"/>
<rect x="602.06" y="535.54" width="12.76" height="4.19" fill="#f7c8b9"/>
<rect x="614.82" y="535.54" width="13.76" height="3.19" fill="#fe1c0c"/>
<rect x="614.82" y="535.54" width="12.76" height="4.19" fill="#fe1c0c"/>
<rect x="627.58" y="535.54" width="13.76" height="3.19" fill="#fe1c0c"/>
<rect x="627.58" y="535.54" width="12.76" height="4.19" fill="#fe1c0c"/>
<rect x="640.34" y="535.54" width="12.76" height="4.19" fill="#fe1c0c"/>
<rect x="525.50" y="538.74" width="12.76" height="4.19" fill="#fe1c0c"/>
<rect x="551.02" y="538.74" width="13.76" height="3.19" fill="#fdf1ed"/>
<rect x="563.78" y="538.74" width="13.76" height="3.19" fill="#f9dcd1"/>
<rect x="563.78" y="538.74" width="12.76" height="4.19" fill="#f9dcd1"/>
<rect x="576.54" y="538.74" width="13.76" height="3.19" fill="#f59e86"/>
<rect x="576.54" y="538.74" width="12.76" height="4.19" fill="#f59e86"/>
<rect x="589.30" y="538.74" width="13.76" height="3.19" fill="#fe1c0c"/>
<rect x="589.30" y="538.74" width="12.76" height="4.19" fill="#fe1c0c"/>
<rect x="602.06" y="538.74" width="13.76" height="3.19" fill="#fe1c0c"/>
<rect x="602.06" y="538.74" width="12.76" height="4.19" fill="#fe1c0c"/>
<rect x="614.82" y="538.74" width="13.76" height="3.19" fill="#fe1c0c"/>
<rect x="614.82" y="538.74" width="12.76" height="4.19" fill="#fe1c0c"/>
<rect x="627.58" y="538.74" width="13.76" height="3.19" fill="#fe1c0c"/>
<rect x="627.58" y="538.74" width="12.76" height="4.19" fill="#fe1c0c"/>
<rect x="640.34" y="538.74" width="12.76" height="4.19" fill="#fe1c0c"/>
<rect x="525.50" y="541.93" width="12.76" height="4.19" fill="#fe1c0c"/>
<rect x="563.78" y="541.93" width="13.76" height="3.19" fill="#fceee8"/>
<rect x="576.54" y="541.93" width="13.76" height="3.19" fill="#f68870"/>
<rect x="576.54" y="541.93" width="12.76" height="4.19" fill="#f68870"/>
<rect x="589.30" y="541.93" width="13.76" height="3.19" fill="#fe1c0c"/>
<rect x="589.30" y="541.93" width="12.76" height="4.19" fill="#fe1c0c"/>
<rect x="602.06" y="541.93" width="13.76" height="3.19" fill="#fe1c0c"/>
<rect x="602.06" y="541.93" width="12.76" height="4.19" fill="#fe1c0c"/>
<rect x="614.82" y="541.93" width="13.76" height="3.19" fill="#fe1c0c"/>
<rect x="614.82" y="541.93" width="12.76" height="4.19" fill="#fe1c0c"/>
<rect x="627.58" y="541.93" width="13.76" height="3.19" fill="#fe1c0c"/>
<rect x="627.58" y="541.93" width="12.76" height="4.19" fill="#fe1c0c"/>
<rect x="640.34" y="541.93" width="12.76" height="4.19" fill="#fe1c0c"/>
<rect x="525.50" y="545.13" width="13.76" height="3.19" fill="#f6937b"/>
<rect x="525.50" y="545.13" width="12.76" height="4.19" fill="#f6937b"/>
<rect x="538.26" y="545.13" width="12.76" height="3.19" fill="#fefaf8"/>
<rect x="576.54" y="545.13" width="13.76" height="3.19" fill="#f7c8b9"/>
<rect x="576.54" y="545.13" width="12.76" height="4.19" fill="#f7c8b9"/>
<rect x="589.30" y="545.13" width="13.76" height="3.19" fill="#f77359"/>
<rect x="589.30" y="545.13" width="12.76" height="4.19" fill="#f77359"/>
<rect x="602.06" y="545.13" width="13.76" height="3.19" fill="#f77359"/>
<rect x="602.06" y="545.13" width="12.76" height="4.19" fill="#f77359"/>
<rect x="614.82" y="545.13" width="13.76" height="3.19" fill="#fe1c0c"/>
<rect x="614.82" y="545.13" width="12.76" height="4.19" fill="#fe1c0c"/>
<rect x="627.58" y="545.13" width="13.76" height="3.19" fill="#fe1c0c"/>
<rect x="627.58" y="545.13" width="12.76" height="4.19" fill="#fe1c0c"/>
<rect x="640.34" y="545.13" width="12.76" height="4.19" fill="#fe1c0c"/>
<rect x="525.50" y="548.32" width="12.76" height="3.19" fill="#fe1c0c"/>
<rect x="576.54" y="548.32" width="13.76" height="3.19" fill="#f7c8b9"/>
<rect x="589.30" y="548.32" width="13.76" height="3.19" fill="#fe1c0c"/>
<rect x="602.06" y="548.32" width="13.76" height="3.19" fill="#f7c8b9"/>
<rect x="614.82" y="548.32" width="13.76" height="3.19" fill="#fe1c0c"/>
<rect x="627.58" y="548.32" width="13.76" height="3.19" fill="#fe1c0c"/>
<rect x="640.34" y="548.32" width="12.76" height="3.19" fill="#fe1c0c"/>
<rect x="525.50" y="554.71" width="12.76" height="3.19" fill="#f6b3a0"/>
<rect x="576.54" y="554.71" width="13.76" height="3.19" fill="#fef6f4"/>
<rect x="589.30" y="554.71" width="13.76" height="3.19" fill="#f6b3a0"/>
<rect x="602.06" y="554.71" width="13.76" height="3.19" fill="#f7beac"/>
<rect x="614.82" y="554.71" width="13.76" height="3.19" fill="#fe1c0c"/>
<rect x="627.58" y="554.71" width="13.76" height="3.19" fill="#fe1c0c"/>
<rect x="640.34" y="554.71" width="12.76" height="3.19" fill="#fe1c0c"/>
<rect x="525.50" y="561.10" width="12.76" height="4.19" fill="#fe1c0c"/>
<rect x="576.54" y="561.10" width="13.76" height="3.19" fill="#f7beac"/>
<rect x="576.54" y="561.10" width="12.76" height="4.19" fill="#f7beac"/>
<rect x="589.30" y="561.10" width="13.76" height="3.19" fill="#fe1c0c"/>
<rect x="589.30" y="561.10" width="12.76" height="4.19" fill="#fe1c0c"/>
<rect x="602.06" y="561.10" width="13.76" height="3.19" fill="#f6a993"/>
<rect x="602.06" y="561.10" width="12.76" height="4.19" fill="#f6a993"/>
<rect x="614.82" y="561.10" width="13.76" height="3.19" fill="#fe1c0c"/>
<rect x="614.82" y="561.10" width="12.76" height="4.19" fill="#fe1c0c"/>
<rect x="627.58" y="561.10" width="13.76" height="3.19" fill="#fe1c0c"/>
<rect x="627.58" y="561.10" width="12.76" height="4.19" fill="#fe1c0c"/>
<rect x="640.34" y="561.10" width="12.76" height="4.19" fill="#fe1c0c"/>
<rect x="525.50" y="564.29" width="12.76" height="4.19" fill="#f59e86"/>
<rect x="551.02" y="564.29" width="13.76" height="3.19" fill="#fef8f6"/>
<rect x="563.78" y="564.29" width="13.76" height="3.19" fill="#fef8f6"/>
<rect x="576.54" y="564.29" width="13.76" height="3.19" fill="#f7c8b9"/>
<rect x="576.54" y="564.29" width="12.76" height="4.19" fill="#f7c8b9"/>
<rect x="589.30" y="564.29" width="13.76" height="3.19" fill="#fbe5dd"/>
<rect x="589.30" y="564.29" width="12.76" height="4.19" fill="#fbe5dd"/>
<rect x="602.06" y="564.29" width="13.76" height="3.19" fill="#f7c8b9"/>
<rect x="602.06" y="564.29" width="12.76" height="4.19" fill="#f7c8b9"/>
<rect x="614.82" y="564.29" width="13.76" height="3.19" fill="#fe1c0c"/>
<rect x="614.82" y="564.29" width="12.76" height="4.19" fill="#fe1c0c"/>
<rect x="627.58" y="564.29" width="13.76" height="3.19" fill="#fe1c0c"/>
<rect x="627.58" y="564.29" width="12.76" height="4.19" fill="#fe1c0c"/>
<rect x="640.34" y="564.29" width="12.76" height="4.19" fill="#fe1c0c"/>
<rect x="525.50" y="567.48" width="13.76" height="3.19" fill="#f8684e"/>
<rect x="525.50" y="567.48" width="12.76" height="4.19" fill="#f8684e"/>
<rect x="538.26" y="567.48" width="12.76" height="3.19" fill="#fefcfa"/>
<rect x="576.54" y="567.48" width="13.76" height="3.19" fill="#f7c8b9"/>
<rect x="576.54" y="567.48" width="12.76" height="4.19" fill="#f7c8b9"/>
<rect x="589.30" y="567.48" width="13.76" height="3.19" fill="#f6a993"/>
<rect x="589.30" y="567.48" width="12.76" height="4.19" fill="#f6a993"/>
<rect x="602.06" y="567.48" width="13.76" height="3.19" fill="#f7c8b9"/>
<rect x="602.06" y="567.48" width="12.76" height="4.19" fill="#f7c8b9"/>
<rect x="614.82" y="567.48" width="13.76" height="3.19" fill="#fe1c0c"/>
<rect x="614.82" y="567.48" width="12.76" height="4.19" fill="#fe1c0c"/>
<rect x="627.58" y="567.48" width="13.76" height="3.19" fill="#fe1c0c"/>
<rect x="627.58" y="567.48" width="12.76" height="4.19" fill="#fe1c0c"/>
<rect x="640.34" y="567.48" width="12.76" height="4.19" fill="#fe1c0c"/>
<rect x="525.50" y="570.68" width="12.76" height="4.19" fill="#f6937b"/>
<rect x="563.78" y="570.68" width="13.76" height="3.19" fill="#fef6f4"/>
<rect x="563.78" y="570.68" width="12.76" height="4.19" fill="#fef6f4"/>
<rect x="576.54" y="570.68" width="13.76" height="3.19" fill="#f7c8b9"/>
<rect x="576.54" y="570.68" width="12.76" height="4.19" fill="#f7c8b9"/>
<rect x="589.30" y="570.68" width="13.76" height="3.19" fill="#f6937b"/>
<rect x="589.30" y="570.68" width="12.76" height="4.19" fill="#f6937b"/>
<rect x="602.06" y="570.68" width="13.76" height="3.19" fill="#f59e86"/>
<rect x="602.06" y="570.68" width="12.76" height="4.19" fill="#f59e86"/>
<rect x="614.82" y="570.68" width="13.76" height="3.19" fill="#fe1c0c"/>
<rect x="614.82" y="570.68" width="12.76" height="4.19" fill="#fe1c0c"/>
<rect x="627.58" y="570.68" width="13.76" height="3.19" fill="#fe1c0c"/>
<rect x="627.58" y="570.68" width="12.76" height="4.19" fill="#fe1c0c"/>
<rect x="640.34" y="570.68" width="12.76" height="4.19" fill="#fe1c0c"/>
<rect x="525.50" y="573.87" width="12.76" height="4.19" fill="#fe1c0c"/>
<rect x="563.78" y="573.87" width="13.76" height="3.19" fill="#fbe5dd"/>
<rect x="563.78" y="573.87" width="12.76" height="4.19" fill="#fbe5dd"/>
<rect x="576.54" y="573.87" width="13.76" height="3.19" fill="#fbe5dd"/>
<rect x="576.54" y="573.87" width="12.76" height="4.19" fill="#fbe5dd"/>
<rect x="589.30" y="573.87" width="13.76" height="3.19" fill="#fa4a34"/>
<rect x="589.30" y="573.87" width="12.76" height="4.19" fill="#fa4a34"/>
<rect x="602.06" y="573.87" width="13.76" height="3.19" fill="#f6b3a0"/>
<rect x="602.06" y="573.87" width="12.76" height="4.19" fill="#f6b3a0"/>
<rect x="614.82" y="573.87" width="13.76" height="3.19" fill="#fe1c0c"/>
<rect x="614.82" y="573.87" width="12.76" height="4.19" fill="#fe1c0c"/>
<rect x="627.58" y="573.87" width="13.76" height="3.19" fill="#fe1c0c"/>
<rect x="627.58" y="573.87" width="12.76" height="4.19" fill="#fe1c0c"/>
<rect x="640.34" y="573.87" width="12.76" height="4.19" fill="#fe1c0c"/>
<rect x="525.50" y="577.07" width="13.76" height="3.19" fill="#fe1c0c"/>
<rect x="525.50" y="577.07" width="12.76" height="4.19" fill="#fe1c0c"/>
<rect x="538.26" y="577.07" width="13.76" height="3.19" fill="#fefaf8"/>
<rect x="551.02" y="577.07" width="13.76" height="3.19" fill="#fdf5f1"/>
<rect x="551.02" y="577.07" width="12.76" height="4.19" fill="#fdf5f1"/>
<rect x="563.78" y="577.07" width="13.76" height="3.19" fill="#f9dcd1"/>
<rect x="563.78" y="577.07" width="12.76" height="4.19" fill="#f9dcd1"/>
<rect x="576.54" y="577.07" width="13.76" height="3.19" fill="#fe1c0c"/>
<rect x="576.54" y="577.07" width="12.76" height="4.19" fill="#fe1c0c"/>
<rect x="589.30" y="577.07" width="13.76" height="3.19" fill="#fe1c0c"/>
<rect x="589.30" y="577.07" width="12.76" height="4.19" fill="#fe1c0c"/>
<rect x="602.06" y="577.07" width="13.76" height="3.19" fill="#f68870"/>
<rect x="602.06" y="577.07" width="12.76" height="4.19" fill="#f68870"/>
<rect x="614.82" y="577.07" width="13.76" height="3.19" fill="#fe1c0c"/>
<rect x="614.82" y="577.07" width="12.76" height="4.19" fill="#fe1c0c"/>
<rect x="627.58" y="577.07" width="13.76" height="3.19" fill="#fe1c0c"/>
<rect x="627.58" y="577.07" width="12.76" height="4.19" fill="#fe1c0c"/>
<rect x="640.34" y="577.07" width="12.76" height="4.19" fill="#fe1c0c"/>
<rect x="525.50" y="580.26" width="12.76" height="4.19" fill="#fe1c0c"/>
<rect x="551.02" y="580.26" width="13.76" height="3.19" fill="#fef8f6"/>
<rect x="551.02" y="580.26" width="12.76" height="4.19" fill="#fef8f6"/>
<rect x="563.78" y="580.26" width="13.76" height="3.19" fill="#fdf1ed"/>
<rect x="563.78" y="580.26" width="12.76" height="4.19" fill="#fdf1ed"/>
<rect x="576.54" y="580.26" width="13.76" height="3.19" fill="#f7beac"/>
<rect x="576.54" y="580.26" width="12.76" height="4.19" fill="#f7beac"/>
<rect x="589.30" y="580.26" width="13.76" height="3.19" fill="#fe1c0c"/>
<rect x="589.30" y="580.26" width="12.76" height="4.19" fill="#fe1c0c"/>
<rect x="602.06" y="580.26" width="13.76" height="3.19" fill="#f77359"/>
<rect x="602.06" y="580.26" width="12.76" height="4.19" fill="#f77359"/>
<rect x="614.82" y="580.26" width="13.76" height="3.19" fill="#fe1c0c"/>
<rect x="614.82" y="580.26" width="12.76" height="4.19" fill="#fe1c0c"/>
<rect x="627.58" y="580.26" width="13.76" height="3.19" fill="#fe1c0c"/>
<rect x="627.58" y="580.26" width="12.76" height="4.19" fill="#fe1c0c"/>
<rect x="640.34" y="580.26" width="12.76" height="4.19" fill="#fe1c0c"/>
<rect x="525.50" y="583.45" width="13.76" height="3.19" fill="#fe1c0c"/>
<rect x="538.26" y="583.45" width="13.76" height="3.19" fill="#fefaf8"/>
<rect x="551.02" y="583.45" width="13.76" height="3.19" fill="#fef6f4"/>
<rect x="563.78" y="583.45" width="13.76" height="3.19" fill="#fefaf8"/>
<rect x="576.54" y="583.45" width="13.76" height="3.19" fill="#f68870"/>
<rect x="589.30" y="583.45" width="13.76" height="3.19" fill="#fe1c0c"/>
<rect x="602.06" y="583.45" width="13.76" height="3.19" fill="#f95941"/>
<rect x="614.82" y="583.45" width="13.76" height="3.19" fill="#fe1c0c"/>
<rect x="627.58" y="583.45" width="13.76" height="3.19" fill="#fe1c0c"/>
<rect x="640.34" y="583.45" width="12.76" height="3.19" fill="#fe1c0c"/>
<rect x="525.50" y="599.42" width="12.76" height="3.19" fill="#fe1c0c"/>
<rect x="563.78" y="599.42" width="13.76" height="3.19" fill="#fbe5dd"/>
<rect x="576.54" y="599.42" width="13.76" height="3.19" fill="#f7beac"/>
<rect x="589.30" y="599.42" width="13.76" height="3.19" fill="#f68870"/>
<rect x="602.06" y="599.42" width="13.76" height="3.19" fill="#f95941"/>
<rect x="614.82" y="599.42" width="13.76" height="3.19" fill="#fe1c0c"/>
<rect x="627.58" y="599.42" width="13.76" height="3.19" fill="#fe1c0c"/>
<rect x="640.34" y="599.42" width="12.76" height="3.19" fill="#fe1c0c"/>
<rect x="525.50" y="609.01" width="12.76" height="3.19" fill="#f95941"/>
<rect x="576.54" y="609.01" width="13.76" height="3.19" fill="#f9dcd1"/>
<rect x="589.30" y="609.01" width="13.76" height="3.19" fill="#fe1c0c"/>
<rect x="602.06" y="609.01" width="13.76" height="3.19" fill="#f7beac"/>
<rect x="614.82" y="609.01" width="13.76" height="3.19" fill="#fe1c0c"/>
<rect x="627.58" y="609.01" width="13.76" height="3.19" fill="#fe1c0c"/>
<rect x="640.34" y="609.01" width="12.76" height="3.19" fill="#fe1c0c"/>
<rect x="524.90" y="452.10" width="128.80" height="160.50" fill="none" stroke="#d9d9d9" stroke-width="0.6"/>
<line x1="523.60" y1="454.10" x2="524.60" y2="454.10" stroke="#777" stroke-width="0.4"/>
<line x1="523.60" y1="457.29" x2="524.60" y2="457.29" stroke="#777" stroke-width="0.4"/>
<line x1="523.60" y1="460.49" x2="524.60" y2="460.49" stroke="#777" stroke-width="0.4"/>
<line x1="523.60" y1="463.68" x2="524.60" y2="463.68" stroke="#777" stroke-width="0.4"/>
<line x1="523.60" y1="466.87" x2="524.60" y2="466.87" stroke="#777" stroke-width="0.4"/>
<line x1="523.60" y1="470.07" x2="524.60" y2="470.07" stroke="#777" stroke-width="0.4"/>
<line x1="523.60" y1="473.26" x2="524.60" y2="473.26" stroke="#777" stroke-width="0.4"/>
<line x1="523.60" y1="476.45" x2="524.60" y2="476.45" stroke="#777" stroke-width="0.4"/>
<line x1="523.60" y1="479.65" x2="524.60" y2="479.65" stroke="#777" stroke-width="0.4"/>
<line x1="523.60" y1="482.84" x2="524.60" y2="482.84" stroke="#777" stroke-width="0.4"/>
<line x1="523.60" y1="486.04" x2="524.60" y2="486.04" stroke="#777" stroke-width="0.4"/>
<line x1="523.60" y1="489.23" x2="524.60" y2="489.23" stroke="#777" stroke-width="0.4"/>
<line x1="523.60" y1="492.43" x2="524.60" y2="492.43" stroke="#777" stroke-width="0.4"/>
<line x1="523.60" y1="495.62" x2="524.60" y2="495.62" stroke="#777" stroke-width="0.4"/>
<line x1="523.60" y1="498.81" x2="524.60" y2="498.81" stroke="#777" stroke-width="0.4"/>
<line x1="523.60" y1="502.01" x2="524.60" y2="502.01" stroke="#777" stroke-width="0.4"/>
<line x1="523.60" y1="505.20" x2="524.60" y2="505.20" stroke="#777" stroke-width="0.4"/>
<line x1="523.60" y1="508.39" x2="524.60" y2="508.39" stroke="#777" stroke-width="0.4"/>
<line x1="523.60" y1="511.59" x2="524.60" y2="511.59" stroke="#777" stroke-width="0.4"/>
<line x1="523.60" y1="514.78" x2="524.60" y2="514.78" stroke="#777" stroke-width="0.4"/>
<line x1="523.60" y1="517.98" x2="524.60" y2="517.98" stroke="#777" stroke-width="0.4"/>
<line x1="523.60" y1="521.17" x2="524.60" y2="521.17" stroke="#777" stroke-width="0.4"/>
<line x1="523.60" y1="524.37" x2="524.60" y2="524.37" stroke="#777" stroke-width="0.4"/>
<line x1="523.60" y1="527.56" x2="524.60" y2="527.56" stroke="#777" stroke-width="0.4"/>
<line x1="523.60" y1="530.75" x2="524.60" y2="530.75" stroke="#777" stroke-width="0.4"/>
<line x1="523.60" y1="533.95" x2="524.60" y2="533.95" stroke="#777" stroke-width="0.4"/>
<line x1="523.60" y1="537.14" x2="524.60" y2="537.14" stroke="#777" stroke-width="0.4"/>
<line x1="523.60" y1="540.34" x2="524.60" y2="540.34" stroke="#777" stroke-width="0.4"/>
<line x1="523.60" y1="543.53" x2="524.60" y2="543.53" stroke="#777" stroke-width="0.4"/>
<line x1="523.60" y1="546.72" x2="524.60" y2="546.72" stroke="#777" stroke-width="0.4"/>
<line x1="523.60" y1="549.92" x2="524.60" y2="549.92" stroke="#777" stroke-width="0.4"/>
<line x1="523.60" y1="553.11" x2="524.60" y2="553.11" stroke="#777" stroke-width="0.4"/>
<line x1="523.60" y1="556.30" x2="524.60" y2="556.30" stroke="#777" stroke-width="0.4"/>
<line x1="523.60" y1="559.50" x2="524.60" y2="559.50" stroke="#777" stroke-width="0.4"/>
<line x1="523.60" y1="562.69" x2="524.60" y2="562.69" stroke="#777" stroke-width="0.4"/>
<line x1="523.60" y1="565.89" x2="524.60" y2="565.89" stroke="#777" stroke-width="0.4"/>
<line x1="523.60" y1="569.08" x2="524.60" y2="569.08" stroke="#777" stroke-width="0.4"/>
<line x1="523.60" y1="572.27" x2="524.60" y2="572.27" stroke="#777" stroke-width="0.4"/>
<line x1="523.60" y1="575.47" x2="524.60" y2="575.47" stroke="#777" stroke-width="0.4"/>
<line x1="523.60" y1="578.66" x2="524.60" y2="578.66" stroke="#777" stroke-width="0.4"/>
<line x1="523.60" y1="581.86" x2="524.60" y2="581.86" stroke="#777" stroke-width="0.4"/>
<line x1="523.60" y1="585.05" x2="524.60" y2="585.05" stroke="#777" stroke-width="0.4"/>
<line x1="523.60" y1="588.25" x2="524.60" y2="588.25" stroke="#777" stroke-width="0.4"/>
<line x1="523.60" y1="591.44" x2="524.60" y2="591.44" stroke="#777" stroke-width="0.4"/>
<line x1="523.60" y1="594.63" x2="524.60" y2="594.63" stroke="#777" stroke-width="0.4"/>
<line x1="523.60" y1="597.83" x2="524.60" y2="597.83" stroke="#777" stroke-width="0.4"/>
<line x1="523.60" y1="601.02" x2="524.60" y2="601.02" stroke="#777" stroke-width="0.4"/>
<line x1="523.60" y1="604.22" x2="524.60" y2="604.22" stroke="#777" stroke-width="0.4"/>
<line x1="523.60" y1="607.41" x2="524.60" y2="607.41" stroke="#777" stroke-width="0.4"/>
<line x1="523.60" y1="610.60" x2="524.60" y2="610.60" stroke="#777" stroke-width="0.4"/>
<line x1="531.88" y1="612.60" x2="531.88" y2="613.80" stroke="#666" stroke-width="0.4"/>
<text x="533.68" y="615.80" font-size="3.55" fill="#f0322d" text-anchor="end" font-weight="bold" transform="rotate(-45 533.68 615.80)">T0 Pre-op</text>
<line x1="544.64" y1="612.60" x2="544.64" y2="613.80" stroke="#666" stroke-width="0.4"/>
<text x="546.44" y="615.80" font-size="3.55" fill="#f0322d" text-anchor="end" font-weight="bold" transform="rotate(-45 546.44 615.80)">T0 Post-op</text>
<line x1="557.40" y1="612.60" x2="557.40" y2="613.80" stroke="#666" stroke-width="0.4"/>
<text x="559.20" y="615.80" font-size="3.55" fill="#f0322d" text-anchor="end" font-weight="bold" transform="rotate(-45 559.20 615.80)">T2 BAT</text>
<line x1="570.16" y1="612.60" x2="570.16" y2="613.80" stroke="#666" stroke-width="0.4"/>
<text x="571.96" y="615.80" font-size="3.55" fill="#f0322d" text-anchor="end" font-weight="bold" transform="rotate(-45 571.96 615.80)">T3 BAT</text>
<line x1="582.92" y1="612.60" x2="582.92" y2="613.80" stroke="#666" stroke-width="0.4"/>
<text x="584.72" y="615.80" font-size="3.55" fill="#f0322d" text-anchor="end" font-weight="bold" transform="rotate(-45 584.72 615.80)">T4 PAT</text>
<line x1="595.68" y1="612.60" x2="595.68" y2="613.80" stroke="#666" stroke-width="0.4"/>
<text x="597.48" y="615.80" font-size="3.55" fill="#f0322d" text-anchor="end" font-weight="bold" transform="rotate(-45 597.48 615.80)">T5 FU</text>
<line x1="608.44" y1="612.60" x2="608.44" y2="613.80" stroke="#666" stroke-width="0.4"/>
<text x="610.24" y="615.80" font-size="3.55" fill="#f0322d" text-anchor="end" font-weight="bold" transform="rotate(-45 610.24 615.80)">T6 FU</text>
<line x1="621.20" y1="612.60" x2="621.20" y2="613.80" stroke="#666" stroke-width="0.4"/>
<text x="623.00" y="615.80" font-size="3.55" fill="#f0322d" text-anchor="end" font-weight="bold" transform="rotate(-45 623.00 615.80)">T7 FU</text>
<line x1="633.96" y1="612.60" x2="633.96" y2="613.80" stroke="#666" stroke-width="0.4"/>
<text x="635.76" y="615.80" font-size="3.55" fill="#f0322d" text-anchor="end" font-weight="bold" transform="rotate(-45 635.76 615.80)">TR0</text>
<line x1="646.72" y1="612.60" x2="646.72" y2="613.80" stroke="#666" stroke-width="0.4"/>
<text x="648.52" y="615.80" font-size="3.55" fill="#f0322d" text-anchor="end" font-weight="bold" transform="rotate(-45 648.52 615.80)">TR1 During Therapy</text>
<text x="518.20" y="533.90" font-size="8.8" fill="#111" text-anchor="middle" font-weight="normal" transform="rotate(-90 518.20 533.90)">Oropharyngeal cancer</text>
<rect x="657.60" y="524.30" width="4.50" height="21.30" fill="url(#cb)"/>
<text x="657.80" y="522.60" font-size="4.4" fill="#111" text-anchor="start" font-weight="bold">VAF (%)</text>
<text x="663.40" y="526.00" font-size="3.2" fill="#111" text-anchor="start" font-weight="bold">1.00</text>
<text x="663.40" y="531.33" font-size="3.2" fill="#111" text-anchor="start" font-weight="bold">0.75</text>
<text x="663.40" y="536.66" font-size="3.2" fill="#111" text-anchor="start" font-weight="bold">0.50</text>
<text x="663.40" y="541.99" font-size="3.2" fill="#111" text-anchor="start" font-weight="bold">0.25</text>
<text x="663.40" y="547.32" font-size="3.2" fill="#111" text-anchor="start" font-weight="bold">0.00</text>
<rect x="524.70" y="640.50" width="129.50" height="161.50" fill="#fff" stroke="#d0d0d0" stroke-width="0.7"/>
<rect x="624.60" y="661.30" width="14.20" height="6.40" fill="#717171"/>
<rect x="624.60" y="674.70" width="14.20" height="3.30" fill="#717171"/>
<rect x="624.60" y="684.90" width="14.20" height="3.10" fill="#717171"/>
<rect x="624.60" y="691.60" width="14.20" height="3.00" fill="#717171"/>
<rect x="624.60" y="698.20" width="14.20" height="3.40" fill="#717171"/>
<rect x="624.60" y="708.50" width="14.20" height="3.10" fill="#717171"/>
<rect x="624.60" y="715.20" width="14.20" height="3.00" fill="#717171"/>
<rect x="624.60" y="721.80" width="14.20" height="3.10" fill="#717171"/>
<rect x="624.60" y="738.20" width="14.20" height="3.30" fill="#717171"/>
<rect x="624.60" y="775.10" width="14.20" height="3.30" fill="#717171"/>
<rect x="624.60" y="781.70" width="14.20" height="6.70" fill="#717171"/>
<rect x="624.60" y="795.60" width="14.20" height="6.40" fill="#717171"/>
<rect x="525.50" y="651.10" width="13.59" height="3.30" fill="#fbeae3"/>
<rect x="525.50" y="684.90" width="13.59" height="2.80" fill="#fdf5f1"/>
<rect x="525.50" y="734.90" width="13.59" height="3.30" fill="#fbeae3"/>
<rect x="525.50" y="741.50" width="13.59" height="3.10" fill="#fceee8"/>
<rect x="525.50" y="758.40" width="13.59" height="3.40" fill="#f9dcd1"/>
<rect x="525.50" y="778.70" width="13.59" height="3.30" fill="#fbe5dd"/>
<rect x="525.50" y="785.30" width="13.59" height="3.40" fill="#fbeae3"/>
<rect x="525.50" y="795.60" width="13.59" height="3.10" fill="#fbeae3"/>
<rect x="567.87" y="761.80" width="14.39" height="3.30" fill="#fceee8"/>
<rect x="582.26" y="761.80" width="14.39" height="3.30" fill="#fefaf8"/>
<rect x="553.48" y="711.60" width="14.39" height="3.00" fill="#fefaf8"/>
<line x1="522.70" y1="642.10" x2="523.80" y2="642.10" stroke="#777" stroke-width="0.4"/>
<line x1="522.70" y1="645.40" x2="523.80" y2="645.40" stroke="#777" stroke-width="0.4"/>
<line x1="522.70" y1="648.70" x2="523.80" y2="648.70" stroke="#777" stroke-width="0.4"/>
<line x1="522.70" y1="652.00" x2="523.80" y2="652.00" stroke="#777" stroke-width="0.4"/>
<line x1="522.70" y1="655.30" x2="523.80" y2="655.30" stroke="#777" stroke-width="0.4"/>
<line x1="522.70" y1="658.60" x2="523.80" y2="658.60" stroke="#777" stroke-width="0.4"/>
<line x1="522.70" y1="661.90" x2="523.80" y2="661.90" stroke="#777" stroke-width="0.4"/>
<line x1="522.70" y1="665.20" x2="523.80" y2="665.20" stroke="#777" stroke-width="0.4"/>
<line x1="522.70" y1="668.50" x2="523.80" y2="668.50" stroke="#777" stroke-width="0.4"/>
<line x1="522.70" y1="671.80" x2="523.80" y2="671.80" stroke="#777" stroke-width="0.4"/>
<line x1="522.70" y1="675.10" x2="523.80" y2="675.10" stroke="#777" stroke-width="0.4"/>
<line x1="522.70" y1="678.40" x2="523.80" y2="678.40" stroke="#777" stroke-width="0.4"/>
<line x1="522.70" y1="681.70" x2="523.80" y2="681.70" stroke="#777" stroke-width="0.4"/>
<line x1="522.70" y1="685.00" x2="523.80" y2="685.00" stroke="#777" stroke-width="0.4"/>
<line x1="522.70" y1="688.30" x2="523.80" y2="688.30" stroke="#777" stroke-width="0.4"/>
<line x1="522.70" y1="691.60" x2="523.80" y2="691.60" stroke="#777" stroke-width="0.4"/>
<line x1="522.70" y1="694.90" x2="523.80" y2="694.90" stroke="#777" stroke-width="0.4"/>
<line x1="522.70" y1="698.20" x2="523.80" y2="698.20" stroke="#777" stroke-width="0.4"/>
<line x1="522.70" y1="701.50" x2="523.80" y2="701.50" stroke="#777" stroke-width="0.4"/>
<line x1="522.70" y1="704.80" x2="523.80" y2="704.80" stroke="#777" stroke-width="0.4"/>
<line x1="522.70" y1="708.10" x2="523.80" y2="708.10" stroke="#777" stroke-width="0.4"/>
<line x1="522.70" y1="711.40" x2="523.80" y2="711.40" stroke="#777" stroke-width="0.4"/>
<line x1="522.70" y1="714.70" x2="523.80" y2="714.70" stroke="#777" stroke-width="0.4"/>
<line x1="522.70" y1="718.00" x2="523.80" y2="718.00" stroke="#777" stroke-width="0.4"/>
<line x1="522.70" y1="721.30" x2="523.80" y2="721.30" stroke="#777" stroke-width="0.4"/>
<line x1="522.70" y1="724.60" x2="523.80" y2="724.60" stroke="#777" stroke-width="0.4"/>
<line x1="522.70" y1="727.90" x2="523.80" y2="727.90" stroke="#777" stroke-width="0.4"/>
<line x1="522.70" y1="731.20" x2="523.80" y2="731.20" stroke="#777" stroke-width="0.4"/>
<line x1="522.70" y1="734.50" x2="523.80" y2="734.50" stroke="#777" stroke-width="0.4"/>
<line x1="522.70" y1="737.80" x2="523.80" y2="737.80" stroke="#777" stroke-width="0.4"/>
<line x1="522.70" y1="741.10" x2="523.80" y2="741.10" stroke="#777" stroke-width="0.4"/>
<line x1="522.70" y1="744.40" x2="523.80" y2="744.40" stroke="#777" stroke-width="0.4"/>
<line x1="522.70" y1="747.70" x2="523.80" y2="747.70" stroke="#777" stroke-width="0.4"/>
<line x1="522.70" y1="751.00" x2="523.80" y2="751.00" stroke="#777" stroke-width="0.4"/>
<line x1="522.70" y1="754.30" x2="523.80" y2="754.30" stroke="#777" stroke-width="0.4"/>
<line x1="522.70" y1="757.60" x2="523.80" y2="757.60" stroke="#777" stroke-width="0.4"/>
<line x1="522.70" y1="760.90" x2="523.80" y2="760.90" stroke="#777" stroke-width="0.4"/>
<line x1="522.70" y1="764.20" x2="523.80" y2="764.20" stroke="#777" stroke-width="0.4"/>
<line x1="522.70" y1="767.50" x2="523.80" y2="767.50" stroke="#777" stroke-width="0.4"/>
<line x1="522.70" y1="770.80" x2="523.80" y2="770.80" stroke="#777" stroke-width="0.4"/>
<line x1="522.70" y1="774.10" x2="523.80" y2="774.10" stroke="#777" stroke-width="0.4"/>
<line x1="522.70" y1="777.40" x2="523.80" y2="777.40" stroke="#777" stroke-width="0.4"/>
<line x1="522.70" y1="780.70" x2="523.80" y2="780.70" stroke="#777" stroke-width="0.4"/>
<line x1="522.70" y1="784.00" x2="523.80" y2="784.00" stroke="#777" stroke-width="0.4"/>
<line x1="522.70" y1="787.30" x2="523.80" y2="787.30" stroke="#777" stroke-width="0.4"/>
<line x1="522.70" y1="790.60" x2="523.80" y2="790.60" stroke="#777" stroke-width="0.4"/>
<line x1="522.70" y1="793.90" x2="523.80" y2="793.90" stroke="#777" stroke-width="0.4"/>
<line x1="522.70" y1="797.20" x2="523.80" y2="797.20" stroke="#777" stroke-width="0.4"/>
<line x1="522.70" y1="800.50" x2="523.80" y2="800.50" stroke="#777" stroke-width="0.4"/>
<line x1="531.89" y1="802.40" x2="531.89" y2="803.60" stroke="#666" stroke-width="0.4"/>
<text x="533.69" y="805.60" font-size="3.5" fill="#f0322d" text-anchor="end" font-weight="bold" transform="rotate(-45 533.69 805.60)">T0 Pre-op</text>
<line x1="546.28" y1="802.40" x2="546.28" y2="803.60" stroke="#666" stroke-width="0.4"/>
<text x="548.08" y="805.60" font-size="3.5" fill="#222" text-anchor="end" font-weight="bold" transform="rotate(-45 548.08 805.60)">T2 Post-op</text>
<line x1="560.67" y1="802.40" x2="560.67" y2="803.60" stroke="#666" stroke-width="0.4"/>
<text x="562.47" y="805.60" font-size="3.5" fill="#222" text-anchor="end" font-weight="bold" transform="rotate(-45 562.47 805.60)">T3 BAT</text>
<line x1="575.06" y1="802.40" x2="575.06" y2="803.60" stroke="#666" stroke-width="0.4"/>
<text x="576.86" y="805.60" font-size="3.5" fill="#222" text-anchor="end" font-weight="bold" transform="rotate(-45 576.86 805.60)">T3 BAT</text>
<line x1="589.45" y1="802.40" x2="589.45" y2="803.60" stroke="#666" stroke-width="0.4"/>
<text x="591.25" y="805.60" font-size="3.5" fill="#222" text-anchor="end" font-weight="bold" transform="rotate(-45 591.25 805.60)">T4 BAT</text>
<line x1="603.84" y1="802.40" x2="603.84" y2="803.60" stroke="#666" stroke-width="0.4"/>
<text x="605.64" y="805.60" font-size="3.5" fill="#222" text-anchor="end" font-weight="bold" transform="rotate(-45 605.64 805.60)">T6 FU</text>
<line x1="618.23" y1="802.40" x2="618.23" y2="803.60" stroke="#666" stroke-width="0.4"/>
<text x="620.03" y="805.60" font-size="3.5" fill="#222" text-anchor="end" font-weight="bold" transform="rotate(-45 620.03 805.60)">T7 FU</text>
<line x1="632.62" y1="802.40" x2="632.62" y2="803.60" stroke="#666" stroke-width="0.4"/>
<text x="634.42" y="805.60" font-size="3.5" fill="#222" text-anchor="end" font-weight="bold" transform="rotate(-45 634.42 805.60)">TR0 Pre-op Rec.</text>
<line x1="647.01" y1="802.40" x2="647.01" y2="803.60" stroke="#666" stroke-width="0.4"/>
<text x="648.81" y="805.60" font-size="3.5" fill="#222" text-anchor="end" font-weight="bold" transform="rotate(-45 648.81 805.60)">TR1 During Therapy</text>
<text x="518.20" y="727.40" font-size="8.75" fill="#111" text-anchor="middle" font-weight="normal" transform="rotate(-90 518.20 727.40)">Hypopharyngeal cancer</text>
<rect x="658.20" y="713.40" width="4.90" height="21.20" fill="url(#cb)"/>
<text x="658.20" y="711.90" font-size="4.4" fill="#111" text-anchor="start" font-weight="bold">VAF (%)</text>
<text x="664.00" y="715.30" font-size="3.2" fill="#111" text-anchor="start" font-weight="bold">1.00</text>
<text x="664.00" y="720.75" font-size="3.2" fill="#111" text-anchor="start" font-weight="bold">0.75</text>
<text x="664.00" y="726.20" font-size="3.2" fill="#111" text-anchor="start" font-weight="bold">0.50</text>
<text x="664.00" y="731.65" font-size="3.2" fill="#111" text-anchor="start" font-weight="bold">0.25</text>
<text x="664.00" y="737.10" font-size="3.2" fill="#111" text-anchor="start" font-weight="bold">0.00</text>
<defs><filter id="bp" x="-5%" y="-5%" width="110%" height="110%"><feGaussianBlur stdDeviation="0.55"/></filter></defs>
<clipPath id="ctc1"><rect x="25.98" y="231.98" width="116.40" height="105.54"/></clipPath>
<g clip-path="url(#ctc1)"><g filter="url(#bp)"><g transform="translate(22 228) scale(0.18103)">
<rect x="-18" y="-18" width="723" height="663" fill="#040404"/>
<rect x="22" y="22" width="643" height="583" fill="#040404"/>
<polygon points="22,66 66,78 96,150 84,232 22,222" fill="#5a5a5a"/>
<ellipse cx="38" cy="130" rx="15" ry="30" fill="#1c1c1c" stroke="#f4f4f4" stroke-width="9"/>
<polygon points="665,58 618,98 580,200 570,258 625,243 665,205" fill="#606060"/>
<ellipse cx="640" cy="155" rx="17" ry="36" fill="#1c1c1c" stroke="#f4f4f4" stroke-width="9" transform="rotate(18 640 155)"/>
<polygon points="100,238 138,208 270,292 300,312 232,352 168,420 140,500 122,605 88,605 100,400 112,300" fill="#2e2e2e"/>
<polygon points="122,250 262,300 175,395 140,330" fill="#5c5c5c"/>
<polygon points="572,238 534,214 392,288 360,312 428,352 490,420 520,500 542,605 578,605 562,400 552,300" fill="#2a2a2a"/>
<polygon points="540,262 405,300 478,385 520,330" fill="#525252"/>
<polygon points="205,22 462,22 448,110 408,200 392,300 276,300 252,200 212,110" fill="#6a6a6a"/>
<polygon points="232,22 440,22 428,100 392,165 280,165 240,100" fill="#cfcfcf"/>
<circle cx="255" cy="45" r="16" fill="#ffffff"/>
<circle cx="300" cy="40" r="18" fill="#ffffff"/>
<circle cx="345" cy="55" r="17" fill="#ffffff"/>
<circle cx="395" cy="42" r="18" fill="#ffffff"/>
<circle cx="275" cy="95" r="15" fill="#ffffff"/>
<circle cx="325" cy="105" r="18" fill="#ffffff"/>
<circle cx="375" cy="100" r="16" fill="#ffffff"/>
<circle cx="300" cy="145" r="13" fill="#ffffff"/>
<circle cx="360" cy="150" r="14" fill="#ffffff"/>
<circle cx="420" cy="70" r="12" fill="#ffffff"/>
<circle cx="278" cy="65" r="9" fill="#1a1a1a"/>
<circle cx="322" cy="75" r="9" fill="#1a1a1a"/>
<circle cx="370" cy="72" r="9" fill="#1a1a1a"/>
<circle cx="345" cy="128" r="9" fill="#1a1a1a"/>
<circle cx="300" cy="120" r="7" fill="#1a1a1a"/>
<circle cx="408" cy="105" r="8" fill="#1a1a1a"/>
<circle cx="250" cy="80" r="8" fill="#1a1a1a"/>
<circle cx="295" cy="47" r="7.3" fill="#ffffff"/>
<circle cx="408" cy="38" r="6.9" fill="#101010"/>
<circle cx="271" cy="37" r="6.1" fill="#ffffff"/>
<circle cx="243" cy="88" r="8.1" fill="#ffffff"/>
<circle cx="436" cy="119" r="6.9" fill="#ffffff"/>
<circle cx="352" cy="84" r="8.9" fill="#ffffff"/>
<circle cx="348" cy="44" r="6.1" fill="#101010"/>
<circle cx="249" cy="71" r="8.1" fill="#ffffff"/>
<circle cx="245" cy="110" r="4.9" fill="#ffffff"/>
<circle cx="346" cy="33" r="4.3" fill="#ffffff"/>
<circle cx="334" cy="104" r="7.9" fill="#202020"/>
<circle cx="354" cy="92" r="5.5" fill="#ffffff"/>
<circle cx="380" cy="61" r="6.9" fill="#101010"/>
<circle cx="334" cy="76" r="6.2" fill="#101010"/>
<circle cx="444" cy="42" r="6.1" fill="#f0f0f0"/>
<circle cx="256" cy="98" r="4.2" fill="#ffffff"/>
<circle cx="395" cy="111" r="8.4" fill="#f0f0f0"/>
<circle cx="299" cy="77" r="6.5" fill="#202020"/>
<circle cx="238" cy="38" r="5.3" fill="#ffffff"/>
<circle cx="368" cy="174" r="8.1" fill="#f0f0f0"/>
<circle cx="384" cy="158" r="5.7" fill="#202020"/>
<circle cx="302" cy="116" r="6.5" fill="#ffffff"/>
<circle cx="396" cy="44" r="5.2" fill="#202020"/>
<circle cx="429" cy="99" r="4.8" fill="#202020"/>
<circle cx="346" cy="157" r="8.1" fill="#101010"/>
<circle cx="285" cy="87" r="5.8" fill="#202020"/>
<circle cx="438" cy="47" r="4.9" fill="#ffffff"/>
<circle cx="371" cy="26" r="8.2" fill="#ffffff"/>
<circle cx="281" cy="25" r="6.1" fill="#f0f0f0"/>
<circle cx="360" cy="72" r="4.6" fill="#101010"/>
<circle cx="437" cy="123" r="7.7" fill="#202020"/>
<circle cx="425" cy="142" r="8.4" fill="#101010"/>
<circle cx="311" cy="84" r="4.5" fill="#202020"/>
<circle cx="236" cy="34" r="5.0" fill="#ffffff"/>
<circle cx="247" cy="115" r="4.5" fill="#101010"/>
<circle cx="256" cy="39" r="5.8" fill="#ffffff"/>
<circle cx="238" cy="55" r="5.9" fill="#f0f0f0"/>
<circle cx="438" cy="115" r="6.4" fill="#ffffff"/>
<circle cx="327" cy="97" r="4.4" fill="#ffffff"/>
<circle cx="391" cy="136" r="6.4" fill="#ffffff"/>
<circle cx="339" cy="55" r="8.8" fill="#f0f0f0"/>
<circle cx="255" cy="106" r="4.1" fill="#101010"/>
<circle cx="289" cy="121" r="4.5" fill="#f0f0f0"/>
<circle cx="339" cy="161" r="5.8" fill="#ffffff"/>
<circle cx="336" cy="548" r="2.6" fill="#8a8a8a"/>
<circle cx="265" cy="442" r="2.6" fill="#8a8a8a"/>
<circle cx="434" cy="587" r="2.6" fill="#8a8a8a"/>
<circle cx="448" cy="553" r="2.6" fill="#8a8a8a"/>
<circle cx="436" cy="541" r="2.6" fill="#8a8a8a"/>
<circle cx="229" cy="498" r="2.6" fill="#8a8a8a"/>
<circle cx="274" cy="406" r="2.6" fill="#8a8a8a"/>
<circle cx="160" cy="453" r="2.6" fill="#8a8a8a"/>
<circle cx="241" cy="532" r="2.6" fill="#8a8a8a"/>
<circle cx="485" cy="485" r="2.6" fill="#8a8a8a"/>
<circle cx="478" cy="588" r="2.6" fill="#8a8a8a"/>
<circle cx="484" cy="469" r="2.6" fill="#8a8a8a"/>
<circle cx="227" cy="443" r="2.6" fill="#8a8a8a"/>
<circle cx="219" cy="439" r="2.6" fill="#8a8a8a"/>
<circle cx="368" cy="571" r="2.6" fill="#8a8a8a"/>
<circle cx="444" cy="491" r="2.6" fill="#8a8a8a"/>
<circle cx="379" cy="552" r="2.6" fill="#8a8a8a"/>
<circle cx="180" cy="526" r="2.6" fill="#8a8a8a"/>
<circle cx="468" cy="549" r="2.6" fill="#8a8a8a"/>
<circle cx="413" cy="491" r="2.6" fill="#8a8a8a"/>
<circle cx="212" cy="550" r="2.6" fill="#8a8a8a"/>
<circle cx="266" cy="552" r="2.6" fill="#8a8a8a"/>
<circle cx="490" cy="475" r="2.6" fill="#8a8a8a"/>
<circle cx="290" cy="580" r="2.6" fill="#8a8a8a"/>
<circle cx="404" cy="432" r="2.6" fill="#8a8a8a"/>
<circle cx="194" cy="429" r="2.6" fill="#8a8a8a"/>
<ellipse cx="325" cy="196" rx="24" ry="24" fill="#050505"/>
<ellipse cx="316" cy="262" rx="13" ry="15" fill="#050505"/>
<polygon points="222,348 268,312 330,334 392,314 412,352 382,374 320,352 250,378" fill="#e6e6e6"/>
<line x1="338" y1="285" x2="315" y2="328" stroke="#f5f5f5" stroke-width="12"/>
<path d="M212 368 C160 430 118 520 102 605" fill="none" stroke="#bdbdbd" stroke-width="11" stroke-dasharray="13 24"/>
<path d="M424 368 C478 430 508 520 522 605" fill="none" stroke="#bdbdbd" stroke-width="11" stroke-dasharray="13 24"/>
<ellipse cx="288" cy="472" rx="31" ry="88" fill="#ffffff" transform="rotate(-8 288 472)"/>
<ellipse cx="300" cy="390" rx="28" ry="20" fill="#ffffff"/>
<ellipse cx="352" cy="502" rx="34" ry="27" fill="#ffffff"/>
<ellipse cx="318" cy="578" rx="74" ry="36" fill="#ffffff"/>
<ellipse cx="405" cy="580" rx="48" ry="30" fill="#f2f2f2"/>
<path d="M300 470 C320 450 345 470 330 520" fill="none" stroke="#222" stroke-width="7"/>
</g></g></g>
<clipPath id="ctc2"><rect x="191.09" y="232.09" width="131.82" height="105.25"/></clipPath>
<g clip-path="url(#ctc2)"><g filter="url(#bp)"><g transform="translate(187 228) scale(0.20437)">
<rect x="-20" y="-20" width="725" height="595" fill="#040404"/>
<rect x="20" y="20" width="645" height="515" fill="#050505"/>
<circle cx="343" cy="278" r="312" fill="#3b3b3b"/>
<path d="M44 270 C44 200 78 112 140 72 C200 40 290 42 345 78 C400 42 490 40 552 72 C612 112 642 200 646 270 C646 400 560 522 343 526 C130 522 44 400 44 270 Z" fill="#d3d3d3"/>
<path d="M44 262 C90 250 110 240 128 215" fill="none" stroke="#9a9a9a" stroke-width="5"/>
<path d="M646 262 C600 250 580 240 562 215" fill="none" stroke="#9a9a9a" stroke-width="5"/>
<path d="M134 285 C128 185 190 120 292 124 C318 128 300 168 270 200 C248 262 258 308 308 330 C330 372 310 432 250 446 C182 442 140 382 134 285 Z" fill="#4a4a4a"/>
<path d="M556 285 C562 185 502 110 412 114 C372 118 352 130 340 142 C402 172 422 232 402 292 C380 322 390 382 402 422 C422 456 472 462 502 440 C540 400 556 342 556 285 Z" fill="#4a4a4a"/>
<ellipse cx="318" cy="225" rx="58" ry="58" fill="#f2f2f2"/>
<ellipse cx="372" cy="222" rx="42" ry="55" fill="#eeeeee" transform="rotate(25 372 222)"/>
<ellipse cx="300" cy="282" rx="52" ry="30" fill="#e9e9e9"/>
<circle cx="406" cy="362" r="31" fill="#f0f0f0"/>
<ellipse cx="345" cy="392" rx="36" ry="42" fill="#e4e4e4"/>
<ellipse cx="345" cy="372" rx="16" ry="14" fill="#f8f8f8"/>
<circle cx="519" cy="277" r="2.7" fill="#b8b8b8"/>
<circle cx="465" cy="160" r="2.3" fill="#b8b8b8"/>
<circle cx="177" cy="385" r="3.0" fill="#b8b8b8"/>
<circle cx="536" cy="336" r="2.9" fill="#b8b8b8"/>
<circle cx="218" cy="206" r="1.9" fill="#b8b8b8"/>
<circle cx="485" cy="294" r="3.0" fill="#b8b8b8"/>
<circle cx="484" cy="353" r="2.4" fill="#b8b8b8"/>
<circle cx="234" cy="221" r="1.9" fill="#b8b8b8"/>
<circle cx="454" cy="256" r="3.3" fill="#b8b8b8"/>
<circle cx="226" cy="417" r="2.6" fill="#b8b8b8"/>
<circle cx="542" cy="255" r="1.9" fill="#b8b8b8"/>
<circle cx="251" cy="157" r="2.4" fill="#b8b8b8"/>
<circle cx="535" cy="369" r="2.0" fill="#b8b8b8"/>
<circle cx="241" cy="162" r="1.9" fill="#b8b8b8"/>
<circle cx="467" cy="186" r="2.8" fill="#b8b8b8"/>
<circle cx="440" cy="171" r="3.0" fill="#b8b8b8"/>
<circle cx="188" cy="263" r="2.2" fill="#b8b8b8"/>
<circle cx="469" cy="226" r="3.4" fill="#b8b8b8"/>
<circle cx="226" cy="254" r="3.3" fill="#b8b8b8"/>
<circle cx="246" cy="373" r="2.4" fill="#b8b8b8"/>
<circle cx="177" cy="314" r="2.2" fill="#b8b8b8"/>
<circle cx="495" cy="188" r="2.1" fill="#b8b8b8"/>
<circle cx="512" cy="388" r="2.2" fill="#b8b8b8"/>
<circle cx="218" cy="363" r="3.5" fill="#b8b8b8"/>
<circle cx="502" cy="320" r="2.6" fill="#b8b8b8"/>
<circle cx="429" cy="211" r="3.3" fill="#b8b8b8"/>
<circle cx="212" cy="357" r="1.9" fill="#b8b8b8"/>
<circle cx="234" cy="306" r="3.3" fill="#b8b8b8"/>
<circle cx="516" cy="194" r="1.8" fill="#b8b8b8"/>
<circle cx="250" cy="270" r="1.9" fill="#b8b8b8"/>
<circle cx="212" cy="246" r="2.8" fill="#b8b8b8"/>
<circle cx="194" cy="244" r="3.4" fill="#b8b8b8"/>
<circle cx="542" cy="337" r="3.0" fill="#b8b8b8"/>
<circle cx="513" cy="351" r="3.5" fill="#b8b8b8"/>
<circle cx="149" cy="330" r="2.7" fill="#b8b8b8"/>
<circle cx="440" cy="230" r="3.6" fill="#b8b8b8"/>
<circle cx="171" cy="302" r="3.1" fill="#b8b8b8"/>
<circle cx="509" cy="362" r="3.1" fill="#b8b8b8"/>
<circle cx="465" cy="418" r="2.4" fill="#b8b8b8"/>
<circle cx="497" cy="261" r="3.2" fill="#b8b8b8"/>
<circle cx="494" cy="310" r="2.9" fill="#b8b8b8"/>
<circle cx="297" cy="314" r="2.9" fill="#b8b8b8"/>
<circle cx="173" cy="331" r="3.6" fill="#b8b8b8"/>
<circle cx="501" cy="359" r="2.5" fill="#b8b8b8"/>
<circle cx="441" cy="313" r="2.6" fill="#b8b8b8"/>
<circle cx="484" cy="156" r="3.2" fill="#b8b8b8"/>
<circle cx="152" cy="319" r="2.7" fill="#b8b8b8"/>
<circle cx="234" cy="350" r="2.7" fill="#b8b8b8"/>
<circle cx="263" cy="344" r="2.2" fill="#b8b8b8"/>
<circle cx="210" cy="415" r="3.0" fill="#b8b8b8"/>
<circle cx="274" cy="340" r="2.2" fill="#b8b8b8"/>
<circle cx="515" cy="407" r="2.5" fill="#b8b8b8"/>
<circle cx="196" cy="286" r="3.3" fill="#b8b8b8"/>
<circle cx="488" cy="354" r="3.5" fill="#b8b8b8"/>
<circle cx="253" cy="183" r="2.6" fill="#b8b8b8"/>
<circle cx="253" cy="197" r="2.5" fill="#b8b8b8"/>
<circle cx="196" cy="224" r="27" fill="#f0f0f0"/>
<circle cx="196" cy="224" r="38" fill="none" stroke="#8a8a8a" stroke-width="6" stroke-dasharray="5 7"/>
<path d="M250 282 L205 298 L185 322" fill="none" stroke="#e8e8e8" stroke-width="6"/>
<path d="M395 310 L440 275 L470 215" fill="none" stroke="#e0e0e0" stroke-width="6"/>
<path d="M380 315 L440 300" fill="none" stroke="#111" stroke-width="7"/>
<circle cx="288" cy="316" r="11" fill="#111"/>
<line x1="170" y1="228" x2="275" y2="228" stroke="#d9e04a" stroke-width="2"/>
<rect x="312" y="98" width="60" height="14" rx="5" fill="#efefef" opacity="0.8"/>
</g></g></g>
<clipPath id="ctc3"><rect x="51.11" y="662.11" width="89.49" height="93.87"/></clipPath>
<g clip-path="url(#ctc3)"><g filter="url(#bp)"><g transform="translate(46 657) scale(0.14599)">
<rect x="-5" y="-5" width="693" height="723" fill="#040404"/>
<rect x="35" y="35" width="613" height="643" fill="#030303"/>
<polygon points="375,85 420,98 470,168 540,228 552,330 532,400 572,440 522,500 472,560 432,632 330,616 200,572 118,546 130,400 180,330 184,220 250,150 330,108" fill="#585858" stroke="#9a9a9a" stroke-width="5"/>
<polygon points="375,100 412,112 455,180 515,240 522,330 500,400 520,445 480,500 440,555 410,600 330,590 215,548 160,520 165,420 205,340 210,235 265,170 335,125" fill="#a2a2a2"/>
<polygon points="165,420 215,548 330,590 410,600 440,555 480,500 500,430 420,470 330,500 250,480" fill="#868686"/>
<polygon points="128,402 176,348 200,420 178,520 128,540" fill="#242424"/>
<polygon points="528,402 562,440 520,500 496,470 506,412" fill="#242424"/>
<ellipse cx="372" cy="215" rx="58" ry="72" fill="#8a8a8a"/>
<ellipse cx="300" cy="285" rx="42" ry="40" fill="#a8a8a8"/>
<ellipse cx="228" cy="238" rx="22" ry="48" fill="#fafafa" transform="rotate(28 228 238)"/>
<ellipse cx="478" cy="275" rx="22" ry="55" fill="#f2f2f2" transform="rotate(-12 478 275)"/>
<ellipse cx="262" cy="215" rx="16" ry="30" fill="#e2e2e2" transform="rotate(30 262 215)"/>
<polygon points="288,352 338,310 422,308 412,366 332,378" fill="#020202"/>
<ellipse cx="332" cy="412" rx="34" ry="28" fill="#ffffff"/>
<ellipse cx="268" cy="455" rx="30" ry="24" fill="#ffffff"/>
<ellipse cx="398" cy="462" rx="28" ry="24" fill="#ffffff"/>
<path d="M285 478 L332 512 L378 480" fill="none" stroke="#ffffff" stroke-width="11"/>
<ellipse cx="330" cy="470" rx="30" ry="18" fill="#8e8e8e"/>
<path d="M175 500 L300 560 L330 590 M480 500 L380 555 L345 590" fill="none" stroke="#4a4a4a" stroke-width="7"/>
<circle cx="210" cy="400" r="9" fill="#fafafa"/><circle cx="238" cy="385" r="7" fill="#fafafa"/>
<circle cx="428" cy="425" r="8" fill="#fafafa"/><circle cx="248" cy="515" r="7" fill="#f0f0f0"/>
<ellipse cx="165" cy="410" rx="16" ry="22" fill="#8a8a8a"/>
<ellipse cx="552" cy="445" rx="16" ry="20" fill="#8a8a8a"/>
</g></g></g>
<clipPath id="ctc4"><rect x="145.99" y="661.99" width="79.75" height="93.55"/></clipPath>
<g clip-path="url(#ctc4)"><g filter="url(#bp)"><g transform="translate(141 657) scale(0.13139)">
<rect x="-2" y="-2" width="687" height="792" fill="#040404"/>
<rect x="38" y="38" width="607" height="712" fill="#030303"/>
<polygon points="355,92 432,116 502,190 557,280 602,330 645,362 645,580 38,490 38,440 62,418 120,300 170,212 262,128" fill="#8a8a8a"/>
<polygon points="38,470 70,430 125,315 172,288 186,420 162,502 38,480" fill="#0e0e0e"/>
<polygon points="505,292 558,300 600,345 645,380 645,574 522,568 492,520 518,420" fill="#101010"/>
<ellipse cx="245" cy="440" rx="66" ry="100" fill="#5c5c5c"/>
<ellipse cx="418" cy="440" rx="66" ry="100" fill="#5c5c5c"/>
<ellipse cx="175" cy="330" rx="30" ry="50" fill="#6e6e6e"/>
<ellipse cx="490" cy="330" rx="30" ry="50" fill="#6e6e6e"/>
<polygon points="38,477 140,517 240,542 322,552 300,548 200,570 120,607 38,618" fill="#8e8e8e"/>
<polygon points="330,547 430,542 520,567 645,572 645,684 560,668 480,628 420,588 340,558" fill="#8e8e8e"/>
<polyline points="38,672 120,662 190,637 250,627 320,612 350,627 400,652 450,657 500,702 560,712 645,707" fill="none" stroke="#a8a8a8" stroke-width="6"/>
<ellipse cx="350" cy="195" rx="100" ry="78" fill="#a6a6a6"/>
<ellipse cx="352" cy="172" rx="15" ry="20" fill="#050505"/>
<ellipse cx="386" cy="232" rx="14" ry="18" fill="#050505"/>
<ellipse cx="265" cy="212" rx="9" ry="16" fill="#e6e6e6" transform="rotate(15 265 212)"/>
<ellipse cx="412" cy="225" rx="7" ry="20" fill="#ededed"/>
<ellipse cx="330" cy="345" rx="88" ry="62" fill="#ffffff"/>
<rect x="308" y="380" width="44" height="152" rx="10" fill="#ffffff"/>
<path d="M285 372 C300 402 360 402 378 372 Z" fill="#7a7a7a"/>
<ellipse cx="215" cy="352" rx="24" ry="14" fill="#f4f4f4"/><ellipse cx="442" cy="352" rx="24" ry="14" fill="#f4f4f4"/>
<circle cx="205" cy="256" r="22" fill="#ffffff"/><circle cx="244" cy="272" r="14" fill="#ffffff"/>
<circle cx="452" cy="246" r="16" fill="#ffffff"/><circle cx="430" cy="272" r="12" fill="#ffffff"/>
<circle cx="122" cy="365" r="9" fill="#f0f0f0"/><circle cx="132" cy="440" r="8" fill="#e0e0e0"/><circle cx="540" cy="352" r="11" fill="#e8e8e8"/><circle cx="530" cy="435" r="9" fill="#e0e0e0"/>
<ellipse cx="632" cy="432" rx="24" ry="44" fill="#222" stroke="#ffffff" stroke-width="11" transform="rotate(-12 632 432)"/>
</g></g></g>
<clipPath id="ctc5"><rect x="255.26" y="662.26" width="133.49" height="93.13"/></clipPath>
<g clip-path="url(#ctc5)"><g filter="url(#bp)"><g transform="translate(250 657) scale(0.21022)">
<rect x="-15" y="-15" width="715" height="523" fill="#040404"/>
<rect x="25" y="25" width="635" height="443" fill="#030303"/>
<ellipse cx="345" cy="240" rx="292" ry="205" fill="#7a7a7a"/>
<ellipse cx="345" cy="238" rx="272" ry="186" fill="#1a1a1a"/>
<path d="M88 250 C82 150 180 88 300 84 C382 84 412 110 442 190 C402 216 372 230 350 262 C300 292 300 342 280 372 C200 398 98 362 88 250 Z" fill="#b2b2b2"/>
<circle cx="160" cy="232" r="24" fill="#878787"/>
<circle cx="343" cy="172" r="22" fill="#8c8c8c"/>
<path d="M250 185 L290 228 M255 228 L300 232 M255 285 L280 262" stroke="#e4e4e4" stroke-width="7" fill="none"/>
<ellipse cx="400" cy="240" rx="42" ry="26" fill="#a4a4a4"/>
<ellipse cx="490" cy="238" rx="64" ry="74" fill="#8c8c8c"/>
<ellipse cx="488" cy="232" rx="42" ry="50" fill="#525252"/>
<circle cx="499" cy="256" r="5.4" fill="#3a3a3a"/>
<circle cx="501" cy="237" r="5.5" fill="#2e2e2e"/>
<circle cx="501" cy="271" r="3.3" fill="#6e6e6e"/>
<circle cx="518" cy="223" r="3.3" fill="#2e2e2e"/>
<circle cx="472" cy="272" r="5.3" fill="#2e2e2e"/>
<circle cx="509" cy="195" r="4.9" fill="#6e6e6e"/>
<circle cx="518" cy="207" r="3.6" fill="#2e2e2e"/>
<circle cx="518" cy="215" r="5.9" fill="#3a3a3a"/>
<circle cx="518" cy="246" r="3.5" fill="#3a3a3a"/>
<circle cx="480" cy="190" r="4.2" fill="#2e2e2e"/>
<circle cx="471" cy="219" r="5.5" fill="#3a3a3a"/>
<circle cx="476" cy="217" r="5.5" fill="#6e6e6e"/>
<circle cx="504" cy="205" r="4.4" fill="#2e2e2e"/>
<circle cx="511" cy="222" r="4.7" fill="#2e2e2e"/>
<circle cx="485" cy="253" r="4.9" fill="#2e2e2e"/>
<circle cx="459" cy="211" r="5.5" fill="#6e6e6e"/>
<circle cx="477" cy="221" r="4.6" fill="#6e6e6e"/>
<circle cx="458" cy="257" r="5.4" fill="#6e6e6e"/>
<circle cx="457" cy="219" r="4.8" fill="#2e2e2e"/>
<circle cx="477" cy="273" r="4.6" fill="#6e6e6e"/>
<circle cx="504" cy="216" r="5.4" fill="#3a3a3a"/>
<circle cx="462" cy="251" r="6.0" fill="#2e2e2e"/>
<circle cx="506" cy="195" r="4.8" fill="#6e6e6e"/>
<circle cx="477" cy="211" r="5.0" fill="#2e2e2e"/>
<circle cx="453" cy="233" r="5.5" fill="#2e2e2e"/>
<circle cx="482" cy="204" r="4.1" fill="#2e2e2e"/>
<circle cx="516" cy="215" r="4.4" fill="#3a3a3a"/>
<polygon points="405,100 470,95 560,120 580,175 520,170 470,160 430,140" fill="#0a0a0a"/>
<ellipse cx="566" cy="230" rx="34" ry="60" fill="#808080"/>
<circle cx="565" cy="245" r="10" fill="#111"/>
<ellipse cx="512" cy="342" rx="72" ry="46" fill="#aaaaaa" transform="rotate(-12 512 342)"/>
<ellipse cx="345" cy="318" rx="42" ry="40" fill="#f4f4f4"/>
<ellipse cx="345" cy="362" rx="20" ry="12" fill="#6a6a6a"/>
<path d="M305 385 L345 370 L388 385" fill="none" stroke="#f0f0f0" stroke-width="12"/>
<circle cx="398" cy="283" r="20" fill="#cacaca"/>
<ellipse cx="345" cy="410" rx="90" ry="22" fill="#7a7a7a"/>
<ellipse cx="160" cy="98" rx="21" ry="6.5" fill="#ececec" transform="rotate(-35 160 98)"/>
<ellipse cx="108" cy="150" rx="21" ry="6.5" fill="#ececec" transform="rotate(-55 108 150)"/>
<ellipse cx="85" cy="222" rx="21" ry="6.5" fill="#ececec" transform="rotate(-85 85 222)"/>
<ellipse cx="92" cy="300" rx="21" ry="6.5" fill="#ececec" transform="rotate(70 92 300)"/>
<ellipse cx="150" cy="385" rx="21" ry="6.5" fill="#ececec" transform="rotate(30 150 385)"/>
<ellipse cx="268" cy="388" rx="21" ry="6.5" fill="#ececec" transform="rotate(-25 268 388)"/>
<ellipse cx="428" cy="400" rx="21" ry="6.5" fill="#ececec" transform="rotate(20 428 400)"/>
<ellipse cx="525" cy="402" rx="21" ry="6.5" fill="#ececec" transform="rotate(-25 525 402)"/>
<ellipse cx="592" cy="330" rx="21" ry="6.5" fill="#ececec" transform="rotate(-60 592 330)"/>
<ellipse cx="608" cy="255" rx="21" ry="6.5" fill="#ececec" transform="rotate(-85 608 255)"/>
<ellipse cx="602" cy="185" rx="21" ry="6.5" fill="#ececec" transform="rotate(80 602 185)"/>
<ellipse cx="555" cy="120" rx="21" ry="6.5" fill="#ececec" transform="rotate(45 555 120)"/>
<ellipse cx="288" cy="62" rx="21" ry="6.5" fill="#ececec" transform="rotate(5 288 62)"/>
<ellipse cx="358" cy="70" rx="21" ry="6.5" fill="#ececec" transform="rotate(0 358 70)"/>
<ellipse cx="438" cy="66" rx="21" ry="6.5" fill="#ececec" transform="rotate(10 438 66)"/>
<path d="M25 425 C150 455 300 468 345 468 C420 468 560 455 660 438" fill="none" stroke="#9a9a9a" stroke-width="2.5"/>
</g></g></g>
<text x="85.00" y="348.20" font-size="9.1" fill="#111" text-anchor="middle" font-weight="normal">Staging CT: pT3 pN1</text>
<text x="84.30" y="359.60" font-size="8.7" fill="#111" text-anchor="middle" font-weight="normal">hypopharyngeal cancer</text>
<text x="257.00" y="348.60" font-size="8.8" fill="#111" text-anchor="middle" font-weight="normal">CT chest: SCC</text>
<text x="1.70" y="767.60" font-size="8.9" fill="#111" text-anchor="start" font-weight="normal">Staging CT:</text>
<text x="94.40" y="766.90" font-size="8.7" fill="#111" text-anchor="middle" font-weight="normal">pT3 oropharyngeal</text>
<text x="95.80" y="778.40" font-size="8.7" fill="#111" text-anchor="middle" font-weight="normal">cancer</text>
<text x="185.30" y="767.90" font-size="8.75" fill="#111" text-anchor="middle" font-weight="normal">pT3 hypopharyngeal</text>
<text x="186.80" y="779.10" font-size="8.7" fill="#111" text-anchor="middle" font-weight="normal">cancer</text>
<text x="321.60" y="767.80" font-size="9.0" fill="#111" text-anchor="middle" font-weight="normal">Liver metastases</text>
<text x="334.10" y="229.60" font-size="5.8" fill="#111" text-anchor="start" font-weight="normal">ctDNA Detected</text>
<circle cx="341.4" cy="237.0" r="1.6" fill="#fff" stroke="#222" stroke-width="0.5"/>
<text x="348.50" y="239.00" font-size="4.7" fill="#111" text-anchor="start" font-weight="normal">ctDNA –ve</text>
<circle cx="341.6" cy="245.7" r="1.5" fill="#a8100c" stroke="#400" stroke-width="0.3"/>
<text x="348.50" y="247.90" font-size="4.7" fill="#111" text-anchor="start" font-weight="normal">ctDNA +ve</text>
<text x="338.80" y="259.50" font-size="5.5" fill="#111" text-anchor="start" font-weight="normal">Therapy</text>
<rect x="338.90" y="263.10" width="9.20" height="8.90" fill="#b3f7b0"/>
<text x="351.20" y="269.80" font-size="4.7" fill="#111" text-anchor="start" font-weight="normal">RT</text>
<rect x="338.90" y="273.10" width="9.20" height="8.90" fill="#eeaf52"/>
<text x="351.20" y="279.90" font-size="4.6" fill="#111" text-anchor="start" font-weight="normal">Chemoimmunotherapy</text>
<line x1="391.50" y1="229.30" x2="391.50" y2="238.00" stroke="#222" stroke-width="0.6" stroke-dasharray="1.3 0.6"/>
<text x="399.00" y="236.40" font-size="5.2" fill="#111" text-anchor="start" font-weight="normal">Last follow-up</text>
<polygon points="387.90,243.50 396.10,243.50 392.00,249.50" fill="#000"/>
<text x="399.00" y="248.80" font-size="5.05" fill="#111" text-anchor="start" font-weight="normal">Primary surgery</text>
<polygon points="389.30,254.90 395.90,254.90 392.60,260.50" fill="#f2f215" stroke="#444" stroke-width="0.6"/>
<text x="399.00" y="259.80" font-size="5.1" fill="#111" text-anchor="start" font-weight="normal">Recurrence</text>
<text x="410.80" y="665.90" font-size="7.0" fill="#111" text-anchor="start" font-weight="normal">ctDNA Detected</text>
<circle cx="415.3" cy="674.5" r="1.9" fill="#fff" stroke="#222" stroke-width="0.5"/>
<text x="424.00" y="676.60" font-size="5.8" fill="#111" text-anchor="start" font-weight="normal">ctDNA –ve</text>
<circle cx="415.3" cy="685.3" r="1.9" fill="#a8100c" stroke="#400" stroke-width="0.4"/>
<text x="424.00" y="687.50" font-size="5.8" fill="#111" text-anchor="start" font-weight="normal">ctDNA +ve</text>
<text x="410.30" y="703.00" font-size="7.4" fill="#111" text-anchor="start" font-weight="normal">Therapy</text>
<rect x="410.90" y="708.00" width="11.30" height="9.40" fill="#c6e8ee"/>
<text x="426.00" y="714.40" font-size="5.4" fill="#222" text-anchor="start" font-weight="normal">CRT</text>
<rect x="410.90" y="719.30" width="11.30" height="11.30" fill="#f7cbda"/>
<text x="426.00" y="727.20" font-size="5.9" fill="#222" text-anchor="start" font-weight="normal">Immunotherapy</text>
<rect x="410.90" y="732.90" width="11.30" height="9.80" fill="#f0ff62"/>
<text x="425.00" y="739.90" font-size="5.6" fill="#222" text-anchor="start" font-weight="normal">Chemotherapy</text>
<polygon points="411.40,750.60 419.00,750.60 415.20,757.40" fill="#f2f215" stroke="#333" stroke-width="0.7"/>
<text x="422.60" y="756.10" font-size="5.7" fill="#111" text-anchor="start" font-weight="normal">Recurrence</text>
<text x="415.10" y="771.80" font-size="9.6" fill="#000" text-anchor="middle" font-weight="normal">X</text>
<text x="422.60" y="771.50" font-size="5.7" fill="#111" text-anchor="start" font-weight="normal">Death</text>
<line x1="414.20" y1="778.70" x2="414.20" y2="790.40" stroke="#444" stroke-width="0.6" stroke-dasharray="0.8 1.0"/>
<text x="421.90" y="788.00" font-size="5.7" fill="#111" text-anchor="start" font-weight="normal">Last follow-up</text>
<polygon points="410.55,797.40 419.05,797.40 414.80,804.20" fill="#000"/>
<text x="421.90" y="803.10" font-size="5.7" fill="#111" text-anchor="start" font-weight="normal">Primary surgery</text>
</svg>
</body></html>
